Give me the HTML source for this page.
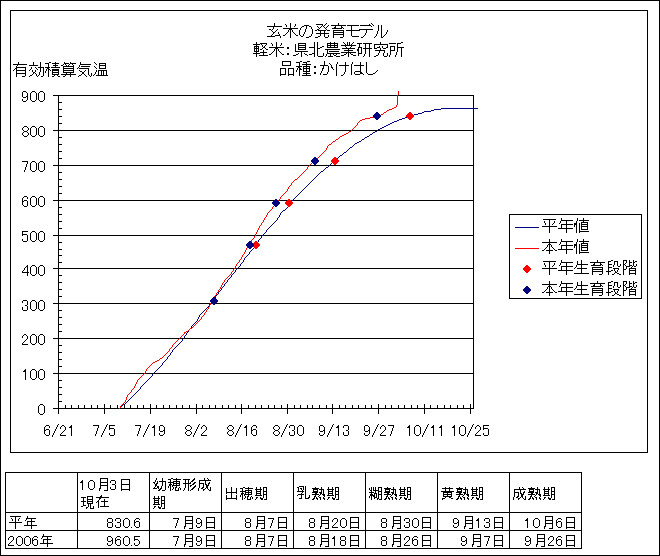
<!DOCTYPE html>
<html lang="ja"><head><meta charset="utf-8"><title>玄米の発育モデル</title>
<style>
html,body{margin:0;padding:0;background:#fff;}
body{width:660px;height:556px;position:relative;overflow:hidden;font-family:"Liberation Sans",sans-serif;}
svg{position:absolute;left:0;top:0;display:block;}
.t{position:absolute;white-space:nowrap;line-height:1;color:transparent;font-family:"Liberation Sans",sans-serif;}
</style></head><body>
<svg width="660" height="556" viewBox="0 0 660 556" shape-rendering="crispEdges"><rect width="660" height="556" fill="#fff"/><path fill="#000" d="M0 0h660v1h-660zM0 1h1v554h-1zM659 1h1v554h-1zM10 10h638v1h-638zM10 11h1v441h-1zM647 11h1v441h-1zM53 95h421v1h-421zM58 96h1v6h-1zM473 96h1v34h-1zM58 102h4v1h-4zM58 103h1v6h-1zM58 109h4v1h-4zM58 110h1v6h-1zM58 116h4v1h-4zM58 117h1v6h-1zM58 123h4v1h-4zM58 124h1v6h-1zM53 130h421v1h-421zM58 131h1v6h-1zM473 131h1v34h-1zM58 137h4v1h-4zM58 138h1v6h-1zM58 144h4v1h-4zM58 145h1v6h-1zM58 151h4v1h-4zM58 152h1v6h-1zM58 158h4v1h-4zM58 159h1v6h-1zM53 165h421v1h-421zM58 166h1v6h-1zM473 166h1v34h-1zM58 172h4v1h-4zM58 173h1v6h-1zM58 179h4v1h-4zM58 180h1v6h-1zM58 186h4v1h-4zM58 187h1v6h-1zM58 193h4v1h-4zM58 194h1v6h-1zM53 200h421v1h-421zM58 201h1v6h-1zM473 201h1v34h-1zM58 207h4v1h-4zM58 208h1v6h-1zM58 214h4v1h-4zM509 214h133v1h-133zM58 215h1v6h-1zM509 215h1v83h-1zM641 215h1v83h-1zM58 221h4v1h-4zM58 222h1v6h-1zM58 228h4v1h-4zM58 229h1v6h-1zM53 235h421v1h-421zM58 236h1v6h-1zM473 236h1v32h-1zM58 242h4v1h-4zM58 243h1v6h-1zM58 249h4v1h-4zM58 250h1v5h-1zM58 255h4v1h-4zM58 256h1v6h-1zM58 262h4v1h-4zM58 263h1v5h-1zM53 268h421v1h-421zM58 269h1v6h-1zM473 269h1v34h-1zM58 275h4v1h-4zM58 276h1v6h-1zM58 282h4v1h-4zM58 283h1v6h-1zM58 289h4v1h-4zM58 290h1v6h-1zM58 296h4v1h-4zM58 297h1v6h-1zM509 298h133v1h-133zM53 303h421v1h-421zM58 304h1v6h-1zM473 304h1v34h-1zM58 310h4v1h-4zM58 311h1v6h-1zM58 317h4v1h-4zM58 318h1v6h-1zM58 324h4v1h-4zM58 325h1v6h-1zM58 331h4v1h-4zM58 332h1v6h-1zM53 338h421v1h-421zM58 339h1v6h-1zM473 339h1v34h-1zM58 345h4v1h-4zM58 346h1v6h-1zM58 352h4v1h-4zM58 353h1v6h-1zM58 359h4v1h-4zM58 360h1v6h-1zM58 366h4v1h-4zM58 367h1v6h-1zM53 373h421v1h-421zM58 374h1v6h-1zM473 374h1v34h-1zM58 380h4v1h-4zM58 381h1v6h-1zM58 387h4v1h-4zM58 388h1v6h-1zM58 394h4v1h-4zM58 395h1v6h-1zM58 401h4v1h-4zM58 402h1v6h-1zM104 404h1v4h-1zM150 404h1v4h-1zM196 404h1v4h-1zM241 404h1v4h-1zM287 404h1v4h-1zM332 404h1v4h-1zM378 404h1v4h-1zM424 404h1v4h-1zM470 404h1v4h-1zM65 405h1v3h-1zM71 405h1v3h-1zM78 405h1v3h-1zM84 405h1v3h-1zM91 405h1v3h-1zM97 405h1v3h-1zM110 405h1v3h-1zM117 405h1v3h-1zM124 405h1v3h-1zM130 405h1v3h-1zM137 405h1v3h-1zM143 405h1v3h-1zM156 405h1v3h-1zM163 405h1v3h-1zM169 405h1v3h-1zM176 405h1v3h-1zM182 405h1v3h-1zM189 405h1v3h-1zM202 405h1v3h-1zM209 405h1v3h-1zM215 405h1v3h-1zM222 405h1v3h-1zM228 405h1v3h-1zM235 405h1v3h-1zM248 405h1v3h-1zM255 405h1v3h-1zM261 405h1v3h-1zM268 405h1v3h-1zM274 405h1v3h-1zM281 405h1v3h-1zM294 405h1v3h-1zM300 405h1v3h-1zM307 405h1v3h-1zM312 405h1v3h-1zM319 405h1v3h-1zM326 405h1v3h-1zM339 405h1v3h-1zM345 405h1v3h-1zM352 405h1v3h-1zM358 405h1v3h-1zM365 405h1v3h-1zM371 405h1v3h-1zM385 405h1v3h-1zM391 405h1v3h-1zM398 405h1v3h-1zM404 405h1v3h-1zM411 405h1v3h-1zM417 405h1v3h-1zM430 405h1v3h-1zM437 405h1v3h-1zM444 405h1v3h-1zM450 405h1v3h-1zM457 405h1v3h-1zM463 405h1v3h-1zM53 408h421v1h-421zM58 409h1v5h-1zM104 409h1v5h-1zM150 409h1v5h-1zM196 409h1v5h-1zM241 409h1v5h-1zM287 409h1v5h-1zM332 409h1v5h-1zM378 409h1v5h-1zM424 409h1v5h-1zM470 409h1v5h-1zM10 452h638v1h-638zM5 472h577v1h-577zM5 473h1v39h-1zM77 473h1v39h-1zM149 473h1v39h-1zM221 473h1v39h-1zM293 473h1v39h-1zM365 473h1v39h-1zM437 473h1v39h-1zM509 473h1v39h-1zM581 473h1v39h-1zM5 512h577v1h-577zM5 513h1v17h-1zM77 513h1v17h-1zM149 513h1v17h-1zM221 513h1v17h-1zM293 513h1v17h-1zM365 513h1v17h-1zM437 513h1v17h-1zM509 513h1v17h-1zM581 513h1v17h-1zM5 530h577v1h-577zM5 531h1v17h-1zM77 531h1v17h-1zM149 531h1v17h-1zM221 531h1v17h-1zM293 531h1v17h-1zM365 531h1v17h-1zM437 531h1v17h-1zM509 531h1v17h-1zM581 531h1v17h-1zM5 548h577v1h-577zM0 555h660v1h-660z"/><path fill="#000080" d="M441 108h37v1h-37zM434 109h7v1h-7zM431 110h3v1h-3zM424 111h7v1h-7zM422 112h2v1h-2zM418 113h4v1h-4zM414 114h4v1h-4zM411 115h3v1h-3zM408 116h3v1h-3zM405 117h3v1h-3zM402 118h3v1h-3zM399 119h3v1h-3zM397 120h2v1h-2zM394 121h3v1h-3zM392 122h2v1h-2zM390 123h2v1h-2zM388 124h2v1h-2zM386 125h2v1h-2zM384 126h2v1h-2zM382 127h2v1h-2zM380 128h2v1h-2zM378 129h2v1h-2zM377 130h1v1h-1zM375 131h2v1h-2zM373 132h2v1h-2zM372 133h1v1h-1zM370 134h2v1h-2zM369 135h1v1h-1zM367 136h2v1h-2zM365 137h2v1h-2zM364 138h1v1h-1zM362 139h2v1h-2zM361 140h1v1h-1zM359 141h2v1h-2zM357 142h2v1h-2zM355 143h2v1h-2zM354 144h1v1h-1zM353 145h1v1h-1zM352 146h1v1h-1zM350 147h2v1h-2zM349 148h1v1h-1zM348 149h1v1h-1zM347 150h1v1h-1zM346 151h1v1h-1zM344 152h2v1h-2zM343 153h1v1h-1zM342 154h1v1h-1zM340 155h2v1h-2zM339 156h1v1h-1zM338 157h1v1h-1zM337 158h1v1h-1zM335 159h2v1h-2zM334 160h1v1h-1zM333 161h1v1h-1zM332 162h1v1h-1zM331 163h1v1h-1zM330 164h1v1h-1zM329 165h1v1h-1zM328 166h1v1h-1zM326 167h2v1h-2zM325 168h1v1h-1zM324 169h1v1h-1zM323 170h1v1h-1zM321 171h2v1h-2zM320 172h1v1h-1zM319 173h1v1h-1zM318 174h1v1h-1zM317 175h1v1h-1zM316 176h1v1h-1zM315 177h1v1h-1zM314 178h1v1h-1zM313 179h1v1h-1zM312 180h1v1h-1zM311 181h1v1h-1zM310 182h1v1h-1zM309 183h1v1h-1zM308 184h1v1h-1zM307 185h1v1h-1zM306 186h1v1h-1zM305 187h1v1h-1zM304 188h1v1h-1zM303 189h1v1h-1zM302 190h1v1h-1zM301 191h1v1h-1zM300 192h1v1h-1zM299 193h1v1h-1zM298 194h1v1h-1zM297 195h1v1h-1zM296 196h1v1h-1zM295 197h1v1h-1zM294 198h1v1h-1zM293 199h1v1h-1zM292 200h1v1h-1zM291 201h1v2h-1zM290 203h1v1h-1zM289 204h1v1h-1zM288 205h1v2h-1zM287 207h1v1h-1zM286 208h1v1h-1zM285 209h1v1h-1zM283 210h2v1h-2zM282 211h1v1h-1zM281 212h1v1h-1zM280 213h1v2h-1zM279 215h1v2h-1zM278 217h1v1h-1zM277 218h1v2h-1zM276 220h1v1h-1zM275 221h1v1h-1zM274 222h1v1h-1zM273 223h1v1h-1zM272 224h1v1h-1zM271 225h1v1h-1zM270 226h1v1h-1zM269 227h1v1h-1zM515 227h24v1h-24zM268 228h1v1h-1zM267 229h1v1h-1zM266 230h1v2h-1zM265 232h1v1h-1zM264 233h1v1h-1zM263 234h1v1h-1zM262 235h1v1h-1zM261 236h1v2h-1zM260 238h1v1h-1zM259 239h1v1h-1zM258 240h1v2h-1zM257 242h1v1h-1zM256 243h1v2h-1zM255 245h1v1h-1zM254 246h1v2h-1zM253 248h1v1h-1zM252 249h1v1h-1zM251 250h1v1h-1zM250 251h1v1h-1zM249 252h1v2h-1zM248 254h1v1h-1zM247 255h1v1h-1zM246 256h1v1h-1zM245 257h1v1h-1zM244 258h1v2h-1zM243 260h1v2h-1zM242 262h1v1h-1zM241 263h1v1h-1zM240 264h1v2h-1zM239 266h1v1h-1zM238 267h1v1h-1zM237 268h1v1h-1zM236 269h1v1h-1zM235 270h1v2h-1zM234 272h1v1h-1zM233 273h1v1h-1zM232 274h1v1h-1zM231 275h1v2h-1zM230 277h1v1h-1zM229 278h1v1h-1zM228 279h1v1h-1zM227 280h1v2h-1zM226 282h1v1h-1zM225 283h1v1h-1zM224 284h1v2h-1zM223 286h1v1h-1zM222 287h1v1h-1zM221 288h1v2h-1zM220 290h1v1h-1zM219 291h1v1h-1zM218 292h1v2h-1zM217 294h1v1h-1zM216 295h1v1h-1zM215 296h1v2h-1zM214 298h1v1h-1zM213 299h1v1h-1zM212 300h1v2h-1zM211 302h1v1h-1zM210 303h1v1h-1zM209 304h1v2h-1zM208 306h1v1h-1zM207 307h1v1h-1zM206 308h1v1h-1zM205 309h1v1h-1zM204 310h1v1h-1zM203 311h1v1h-1zM202 312h1v1h-1zM201 313h1v1h-1zM200 314h1v1h-1zM199 315h1v2h-1zM198 317h1v2h-1zM197 319h1v2h-1zM196 321h1v1h-1zM195 322h1v1h-1zM194 323h1v1h-1zM193 324h1v1h-1zM192 325h1v1h-1zM191 326h1v2h-1zM190 328h1v1h-1zM189 329h1v1h-1zM188 330h1v2h-1zM187 332h1v1h-1zM186 333h1v2h-1zM185 335h1v1h-1zM184 336h1v2h-1zM183 338h1v1h-1zM182 339h1v2h-1zM181 341h1v1h-1zM180 342h1v1h-1zM179 343h1v1h-1zM178 344h1v1h-1zM177 345h1v1h-1zM176 346h1v1h-1zM175 347h1v1h-1zM174 348h1v1h-1zM173 349h1v1h-1zM172 350h1v2h-1zM171 352h1v1h-1zM170 353h1v2h-1zM169 355h1v1h-1zM168 356h1v1h-1zM167 357h1v2h-1zM166 359h1v1h-1zM165 360h1v1h-1zM164 361h1v1h-1zM163 362h1v1h-1zM162 363h1v2h-1zM161 365h1v1h-1zM160 366h1v1h-1zM159 367h1v1h-1zM158 368h1v1h-1zM157 369h1v1h-1zM156 370h1v1h-1zM155 371h1v1h-1zM154 372h1v1h-1zM153 373h1v1h-1zM152 374h1v2h-1zM151 376h1v1h-1zM150 377h1v1h-1zM149 378h1v1h-1zM148 379h1v1h-1zM147 380h1v1h-1zM146 381h1v1h-1zM145 382h1v1h-1zM144 383h1v1h-1zM143 384h1v1h-1zM142 385h1v1h-1zM141 386h1v1h-1zM140 387h1v2h-1zM139 389h1v1h-1zM138 390h1v1h-1zM137 391h1v1h-1zM136 392h1v1h-1zM135 393h1v1h-1zM134 394h1v1h-1zM133 395h1v1h-1zM132 396h1v1h-1zM131 397h1v1h-1zM130 398h1v1h-1zM129 399h1v1h-1zM128 400h1v1h-1zM127 401h1v1h-1zM126 402h1v1h-1zM125 403h1v1h-1zM123 404h2v1h-2zM122 405h1v1h-1zM121 406h1v1h-1zM120 407h1v1h-1zM119 408h1v1h-1z"/><path fill="#f00" d="M398 91h1v4h-1zM397 95h1v10h-1zM396 105h1v2h-1zM394 107h2v1h-2zM392 108h2v1h-2zM389 109h3v1h-3zM387 110h2v1h-2zM386 111h1v1h-1zM384 112h2v1h-2zM383 113h1v1h-1zM381 114h2v1h-2zM377 115h4v1h-4zM374 116h3v1h-3zM370 117h4v1h-4zM365 118h5v1h-5zM362 119h3v1h-3zM360 120h2v1h-2zM359 121h1v1h-1zM358 122h1v1h-1zM357 123h1v2h-1zM356 125h1v1h-1zM355 126h1v1h-1zM354 127h1v1h-1zM353 128h1v1h-1zM352 129h1v1h-1zM351 130h1v1h-1zM349 131h2v1h-2zM348 132h1v1h-1zM346 133h2v1h-2zM344 134h2v1h-2zM342 135h2v1h-2zM340 136h2v1h-2zM339 137h1v1h-1zM338 138h1v1h-1zM336 139h2v1h-2zM335 140h1v1h-1zM333 141h2v1h-2zM332 142h1v1h-1zM331 143h1v1h-1zM329 144h2v1h-2zM328 145h1v1h-1zM327 146h1v2h-1zM326 148h1v2h-1zM325 150h1v1h-1zM324 151h1v1h-1zM323 152h1v1h-1zM322 153h1v1h-1zM321 154h1v1h-1zM320 155h1v1h-1zM319 156h1v1h-1zM318 157h1v1h-1zM317 158h1v1h-1zM316 159h1v1h-1zM315 160h1v1h-1zM313 161h2v1h-2zM312 162h1v1h-1zM311 163h1v1h-1zM310 164h1v1h-1zM309 165h1v1h-1zM308 166h1v1h-1zM307 167h1v2h-1zM306 169h1v1h-1zM305 170h1v1h-1zM304 171h1v1h-1zM303 172h1v1h-1zM302 173h1v1h-1zM301 174h1v1h-1zM300 175h1v1h-1zM299 176h1v1h-1zM298 177h1v1h-1zM297 178h1v1h-1zM295 179h2v1h-2zM294 180h1v1h-1zM293 181h1v1h-1zM292 182h1v1h-1zM291 183h1v2h-1zM290 185h1v1h-1zM289 186h1v1h-1zM288 187h1v2h-1zM287 189h1v2h-1zM286 191h1v1h-1zM285 192h1v1h-1zM284 193h1v1h-1zM283 194h1v1h-1zM282 195h1v1h-1zM281 196h1v1h-1zM280 197h1v2h-1zM279 199h1v1h-1zM278 200h1v1h-1zM277 201h1v1h-1zM276 202h1v2h-1zM275 204h1v1h-1zM274 205h1v1h-1zM273 206h1v1h-1zM272 207h1v2h-1zM271 209h1v1h-1zM270 210h1v1h-1zM269 211h1v1h-1zM268 212h1v1h-1zM267 213h1v2h-1zM266 215h1v2h-1zM265 217h1v1h-1zM264 218h1v2h-1zM263 220h1v2h-1zM262 222h1v1h-1zM261 223h1v2h-1zM260 225h1v1h-1zM259 226h1v2h-1zM258 228h1v2h-1zM257 230h1v2h-1zM256 232h1v2h-1zM255 234h1v2h-1zM254 236h1v2h-1zM253 238h1v1h-1zM252 239h1v1h-1zM251 240h1v2h-1zM250 242h1v1h-1zM249 243h1v2h-1zM248 245h1v1h-1zM247 246h1v2h-1zM246 248h1v2h-1zM515 248h24v1h-24zM245 250h1v2h-1zM244 252h1v2h-1zM243 254h1v1h-1zM242 255h1v2h-1zM241 257h1v2h-1zM240 259h1v1h-1zM239 260h1v2h-1zM238 262h1v1h-1zM237 263h1v1h-1zM236 264h1v2h-1zM235 266h1v2h-1zM234 268h1v1h-1zM233 269h1v2h-1zM232 271h1v1h-1zM231 272h1v2h-1zM230 274h1v1h-1zM229 275h1v1h-1zM228 276h1v1h-1zM227 277h1v1h-1zM226 278h1v1h-1zM225 279h1v1h-1zM224 280h1v2h-1zM223 282h1v1h-1zM222 283h1v2h-1zM221 285h1v2h-1zM220 287h1v2h-1zM219 289h1v1h-1zM218 290h1v2h-1zM217 292h1v1h-1zM216 293h1v2h-1zM215 295h1v1h-1zM214 296h1v2h-1zM213 298h1v2h-1zM212 300h1v1h-1zM211 301h1v2h-1zM210 303h1v2h-1zM209 305h1v2h-1zM208 307h1v2h-1zM207 309h1v1h-1zM206 310h1v2h-1zM205 312h1v1h-1zM204 313h1v2h-1zM203 315h1v1h-1zM202 316h1v1h-1zM201 317h1v2h-1zM200 319h1v1h-1zM199 320h1v1h-1zM198 321h1v1h-1zM197 322h1v1h-1zM196 323h1v1h-1zM195 324h1v1h-1zM194 325h1v1h-1zM193 326h1v1h-1zM192 327h1v1h-1zM190 328h2v1h-2zM189 329h1v1h-1zM188 330h1v1h-1zM186 331h2v1h-2zM184 332h2v1h-2zM184 333h1v1h-1zM183 334h1v1h-1zM182 335h1v1h-1zM181 336h1v1h-1zM180 337h1v1h-1zM179 338h1v1h-1zM178 339h1v1h-1zM177 340h1v1h-1zM176 341h1v1h-1zM175 342h1v1h-1zM174 343h1v1h-1zM173 344h1v1h-1zM172 345h1v2h-1zM171 347h1v1h-1zM170 348h1v1h-1zM169 349h1v2h-1zM168 351h1v1h-1zM167 352h1v1h-1zM166 353h1v1h-1zM165 354h1v1h-1zM164 355h1v1h-1zM163 356h1v1h-1zM162 357h1v1h-1zM160 358h2v1h-2zM159 359h1v1h-1zM157 360h2v1h-2zM155 361h2v1h-2zM153 362h2v1h-2zM152 363h1v1h-1zM151 364h1v1h-1zM150 365h1v1h-1zM149 366h1v1h-1zM148 367h1v1h-1zM147 368h1v1h-1zM146 369h1v2h-1zM145 371h1v2h-1zM144 373h1v1h-1zM143 374h1v1h-1zM142 375h1v1h-1zM141 376h1v1h-1zM140 377h1v1h-1zM139 378h1v1h-1zM138 379h1v1h-1zM137 380h1v2h-1zM136 382h1v2h-1zM135 384h1v2h-1zM134 386h1v2h-1zM133 388h1v1h-1zM132 389h1v1h-1zM131 390h1v2h-1zM130 392h1v1h-1zM129 393h1v1h-1zM128 394h1v1h-1zM127 395h1v2h-1zM126 397h1v3h-1zM125 400h1v2h-1zM124 402h1v1h-1zM123 403h1v1h-1zM122 404h1v1h-1zM121 405h1v1h-1zM120 406h1v2h-1zM119 408h1v1h-1z"/><path fill="#f00" d="M409 112h2v1h-2zM408 113h4v1h-4zM407 114h6v1h-6zM406 115h8v2h-8zM407 117h6v1h-6zM408 118h4v1h-4zM409 119h2v1h-2zM334 157h2v1h-2zM333 158h4v1h-4zM332 159h6v1h-6zM331 160h8v2h-8zM332 162h6v1h-6zM333 163h4v1h-4zM334 164h2v1h-2zM288 199h2v1h-2zM287 200h4v1h-4zM286 201h6v1h-6zM285 202h8v2h-8zM286 204h6v1h-6zM287 205h4v1h-4zM288 206h2v1h-2zM255 241h2v1h-2zM254 242h4v1h-4zM253 243h6v1h-6zM252 244h8v2h-8zM253 246h6v1h-6zM254 247h4v1h-4zM255 248h2v1h-2zM526 265h2v1h-2zM525 266h4v1h-4zM524 267h6v1h-6zM523 268h8v2h-8zM524 270h6v1h-6zM525 271h4v1h-4zM526 272h2v1h-2z"/><path fill="#000080" d="M376 112h2v1h-2zM375 113h4v1h-4zM374 114h6v1h-6zM373 115h8v2h-8zM374 117h6v1h-6zM375 118h4v1h-4zM376 119h2v1h-2zM314 157h2v1h-2zM313 158h4v1h-4zM312 159h6v1h-6zM311 160h8v2h-8zM312 162h6v1h-6zM313 163h4v1h-4zM314 164h2v1h-2zM275 199h2v1h-2zM274 200h4v1h-4zM273 201h6v1h-6zM272 202h8v2h-8zM273 204h6v1h-6zM274 205h4v1h-4zM275 206h2v1h-2zM249 241h2v1h-2zM248 242h4v1h-4zM247 243h6v1h-6zM246 244h8v2h-8zM247 246h6v1h-6zM248 247h4v1h-4zM249 248h2v1h-2zM526 286h2v1h-2zM525 287h4v1h-4zM524 288h6v1h-6zM523 289h8v2h-8zM524 291h6v1h-6zM525 292h4v1h-4zM526 293h2v1h-2zM213 297h2v1h-2zM212 298h4v1h-4zM211 299h6v1h-6zM210 300h8v2h-8zM211 302h6v1h-6zM212 303h4v1h-4zM213 304h2v1h-2z"/><path fill="#000" d="M274 23h1v3h-1zM290 23h1v5h-1zM326 23h1v1h-1zM338 23h1v2h-1zM371 23h1v1h-1zM285 24h1v1h-1zM295 24h1v2h-1zM316 24h7v1h-7zM325 24h1v1h-1zM369 24h1v1h-1zM372 24h1v1h-1zM286 25h1v2h-1zM304 25h5v1h-5zM322 25h1v1h-1zM324 25h1v1h-1zM328 25h1v1h-1zM331 25h15v1h-15zM347 25h12v1h-12zM360 25h11v1h-11zM373 25h1v1h-1zM378 25h1v6h-1zM381 25h1v12h-1zM267 26h15v1h-15zM294 26h1v1h-1zM302 26h2v1h-2zM306 26h1v3h-1zM309 26h2v1h-2zM317 26h1v1h-1zM321 26h1v1h-1zM323 26h1v1h-1zM327 26h1v1h-1zM335 26h1v1h-1zM341 26h1v1h-1zM351 26h1v4h-1zM371 26h1v1h-1zM273 27h1v2h-1zM301 27h1v1h-1zM311 27h1v2h-1zM318 27h1v1h-1zM320 27h1v1h-1zM324 27h1v1h-1zM326 27h1v1h-1zM334 27h2v1h-2zM341 27h2v1h-2zM283 28h15v1h-15zM300 28h1v2h-1zM319 28h1v1h-1zM325 28h1v1h-1zM332 28h10v1h-10zM343 28h1v1h-1zM269 29h2v1h-2zM272 29h1v1h-1zM277 29h1v1h-1zM289 29h3v1h-3zM305 29h1v3h-1zM312 29h1v5h-1zM317 29h2v1h-2zM326 29h1v1h-1zM359 29h14v1h-14zM271 30h1v1h-1zM276 30h1v1h-1zM288 30h1v2h-1zM290 30h1v8h-1zM292 30h1v2h-1zM299 30h1v5h-1zM315 30h2v1h-2zM318 30h8v1h-8zM327 30h3v1h-3zM333 30h11v1h-11zM346 30h14v1h-14zM366 30h1v3h-1zM387 30h1v2h-1zM272 31h1v1h-1zM275 31h1v1h-1zM320 31h1v2h-1zM324 31h1v2h-1zM333 31h1v1h-1zM343 31h1v1h-1zM351 31h1v5h-1zM377 31h1v3h-1zM273 32h2v1h-2zM278 32h1v2h-1zM287 32h1v1h-1zM293 32h1v1h-1zM304 32h1v2h-1zM333 32h11v1h-11zM386 32h1v2h-1zM273 33h1v1h-1zM286 33h1v1h-1zM294 33h1v1h-1zM316 33h13v1h-13zM333 33h1v1h-1zM343 33h1v1h-1zM365 33h1v2h-1zM272 34h1v1h-1zM279 34h1v1h-1zM285 34h1v1h-1zM295 34h1v1h-1zM303 34h1v2h-1zM311 34h1v2h-1zM320 34h1v2h-1zM324 34h1v3h-1zM333 34h11v1h-11zM376 34h1v2h-1zM385 34h1v1h-1zM271 35h1v1h-1zM275 35h5v1h-5zM283 35h2v1h-2zM296 35h2v1h-2zM300 35h1v1h-1zM328 35h1v2h-1zM333 35h1v3h-1zM343 35h1v2h-1zM364 35h1v1h-1zM384 35h1v1h-1zM267 36h8v1h-8zM280 36h1v2h-1zM301 36h2v1h-2zM309 36h2v1h-2zM318 36h2v1h-2zM352 36h7v1h-7zM363 36h1v1h-1zM375 36h1v1h-1zM383 36h1v1h-1zM306 37h3v1h-3zM315 37h3v1h-3zM325 37h3v1h-3zM340 37h3v1h-3zM361 37h2v1h-2zM374 37h1v1h-1zM381 37h2v1h-2zM256 42h1v2h-1zM276 42h1v5h-1zM314 42h1v5h-1zM317 42h1v6h-1zM330 42h1v1h-1zM334 42h1v1h-1zM343 42h1v1h-1zM347 42h1v3h-1zM349 42h1v3h-1zM353 42h1v1h-1zM380 42h1v2h-1zM401 42h2v1h-2zM260 43h7v1h-7zM271 43h1v1h-1zM281 43h1v2h-1zM298 43h8v1h-8zM327 43h11v1h-11zM344 43h1v1h-1zM352 43h1v1h-1zM357 43h5v1h-5zM363 43h9v1h-9zM389 43h7v1h-7zM397 43h4v1h-4zM253 44h7v1h-7zM261 44h1v1h-1zM266 44h1v1h-1zM272 44h1v2h-1zM295 44h1v7h-1zM298 44h1v1h-1zM305 44h1v1h-1zM327 44h1v1h-1zM330 44h1v1h-1zM334 44h1v1h-1zM337 44h1v1h-1zM345 44h1v1h-1zM351 44h1v1h-1zM359 44h1v3h-1zM365 44h1v4h-1zM369 44h1v4h-1zM374 44h14v1h-14zM397 44h1v3h-1zM256 45h1v1h-1zM262 45h1v2h-1zM265 45h1v1h-1zM280 45h1v1h-1zM298 45h8v1h-8zM327 45h11v1h-11zM341 45h15v1h-15zM374 45h1v3h-1zM387 45h1v2h-1zM254 46h5v1h-5zM264 46h1v1h-1zM298 46h1v1h-1zM305 46h1v1h-1zM322 46h2v1h-2zM327 46h1v1h-1zM330 46h1v1h-1zM334 46h1v1h-1zM337 46h1v1h-1zM345 46h1v1h-1zM351 46h1v1h-1zM379 46h1v1h-1zM382 46h1v2h-1zM390 46h5v1h-5zM254 47h1v1h-1zM256 47h1v1h-1zM258 47h1v1h-1zM263 47h2v1h-2zM269 47h15v1h-15zM287 47h2v2h-2zM298 47h8v1h-8zM309 47h6v1h-6zM320 47h2v1h-2zM327 47h11v1h-11zM346 47h1v1h-1zM350 47h1v1h-1zM358 47h4v1h-4zM377 47h3v1h-3zM386 47h2v1h-2zM390 47h1v3h-1zM394 47h1v3h-1zM397 47h7v1h-7zM254 48h5v1h-5zM262 48h1v1h-1zM265 48h1v1h-1zM275 48h3v1h-3zM298 48h1v1h-1zM305 48h1v1h-1zM314 48h1v5h-1zM317 48h3v1h-3zM342 48h13v1h-13zM358 48h1v1h-1zM361 48h1v5h-1zM363 48h9v1h-9zM374 48h3v1h-3zM380 48h1v2h-1zM383 48h3v1h-3zM397 48h1v4h-1zM401 48h1v9h-1zM254 49h1v2h-1zM256 49h1v2h-1zM258 49h1v2h-1zM260 49h2v1h-2zM266 49h2v1h-2zM274 49h1v2h-1zM276 49h1v8h-1zM278 49h1v2h-1zM298 49h8v1h-8zM317 49h1v7h-1zM325 49h15v1h-15zM348 49h1v1h-1zM357 49h2v2h-2zM365 49h1v5h-1zM369 49h1v8h-1zM263 50h1v2h-1zM327 50h1v3h-1zM344 50h9v1h-9zM375 50h10v1h-10zM390 50h5v1h-5zM254 51h5v1h-5zM273 51h1v1h-1zM279 51h1v1h-1zM295 51h13v1h-13zM329 51h10v1h-10zM348 51h1v1h-1zM358 51h1v2h-1zM379 51h1v2h-1zM384 51h1v2h-1zM390 51h1v4h-1zM256 52h1v1h-1zM260 52h7v1h-7zM272 52h1v1h-1zM280 52h1v1h-1zM301 52h1v5h-1zM341 52h15v1h-15zM396 52h1v3h-1zM253 53h7v1h-7zM263 53h1v2h-1zM271 53h1v1h-1zM281 53h1v1h-1zM287 53h2v2h-2zM298 53h1v1h-1zM304 53h1v1h-1zM312 53h3v1h-3zM323 53h1v3h-1zM327 53h13v1h-13zM346 53h1v1h-1zM348 53h1v4h-1zM350 53h1v1h-1zM358 53h4v1h-4zM378 53h1v2h-1zM383 53h1v3h-1zM387 53h1v3h-1zM256 54h1v3h-1zM269 54h2v1h-2zM282 54h2v1h-2zM296 54h2v1h-2zM305 54h2v1h-2zM309 54h3v1h-3zM314 54h1v3h-1zM326 54h1v2h-1zM330 54h1v2h-1zM333 54h1v1h-1zM336 54h1v1h-1zM344 54h2v1h-2zM351 54h2v1h-2zM358 54h1v2h-1zM364 54h1v2h-1zM259 55h9v1h-9zM293 55h3v1h-3zM307 55h1v1h-1zM334 55h2v1h-2zM341 55h3v1h-3zM353 55h3v1h-3zM376 55h2v1h-2zM389 55h1v2h-1zM395 55h1v2h-1zM318 56h5v1h-5zM325 56h1v1h-1zM328 56h5v1h-5zM336 56h4v1h-4zM363 56h1v1h-1zM374 56h2v1h-2zM384 56h3v1h-3zM282 61h9v1h-9zM300 61h2v1h-2zM307 61h3v1h-3zM324 61h1v4h-1zM18 62h1v2h-1zM33 62h1v3h-1zM40 62h1v5h-1zM49 62h2v1h-2zM55 62h1v1h-1zM64 62h1v1h-1zM70 62h1v1h-1zM80 62h1v2h-1zM94 62h1v1h-1zM282 62h1v3h-1zM290 62h1v3h-1zM296 62h4v1h-4zM303 62h4v1h-4zM337 62h1v2h-1zM345 62h1v3h-1zM352 62h1v2h-1zM360 62h1v3h-1zM366 62h1v11h-1zM45 63h4v1h-4zM52 63h7v1h-7zM64 63h5v1h-5zM70 63h6v1h-6zM95 63h1v1h-1zM99 63h7v1h-7zM299 63h1v3h-1zM306 63h1v1h-1zM329 63h1v1h-1zM13 64h14v1h-14zM48 64h1v3h-1zM55 64h1v1h-1zM63 64h1v1h-1zM65 64h1v1h-1zM69 64h1v1h-1zM72 64h1v1h-1zM80 64h11v1h-11zM96 64h1v1h-1zM99 64h1v1h-1zM105 64h1v1h-1zM302 64h9v1h-9zM330 64h1v1h-1zM336 64h1v12h-1zM351 64h1v11h-1zM17 65h1v1h-1zM29 65h9v1h-9zM53 65h5v1h-5zM61 65h2v1h-2zM66 65h1v1h-1zM68 65h1v1h-1zM73 65h1v1h-1zM79 65h1v2h-1zM99 65h7v1h-7zM282 65h9v1h-9zM306 65h1v1h-1zM320 65h8v1h-8zM331 65h1v2h-1zM339 65h10v1h-10zM354 65h10v1h-10zM16 66h1v1h-1zM55 66h1v1h-1zM63 66h11v1h-11zM81 66h9v1h-9zM94 66h1v1h-1zM99 66h1v2h-1zM105 66h1v2h-1zM296 66h6v1h-6zM303 66h7v1h-7zM314 66h2v2h-2zM323 66h1v2h-1zM328 66h1v6h-1zM345 66h1v6h-1zM360 66h1v5h-1zM16 67h10v1h-10zM31 67h1v2h-1zM35 67h1v1h-1zM38 67h6v1h-6zM45 67h5v1h-5zM51 67h9v1h-9zM63 67h1v1h-1zM73 67h1v1h-1zM78 67h1v1h-1zM95 67h1v1h-1zM298 67h2v1h-2zM303 67h1v1h-1zM306 67h1v1h-1zM309 67h1v1h-1zM331 67h2v1h-2zM15 68h2v1h-2zM25 68h1v2h-1zM36 68h1v1h-1zM40 68h1v4h-1zM43 68h1v8h-1zM47 68h2v1h-2zM63 68h11v1h-11zM77 68h1v1h-1zM79 68h10v1h-10zM96 68h1v1h-1zM99 68h7v1h-7zM280 68h6v1h-6zM288 68h6v1h-6zM297 68h1v2h-1zM299 68h2v1h-2zM303 68h7v1h-7zM322 68h2v1h-2zM332 68h1v1h-1zM14 69h1v1h-1zM16 69h1v1h-1zM30 69h1v1h-1zM37 69h1v1h-1zM46 69h1v2h-1zM48 69h2v1h-2zM52 69h7v2h-7zM63 69h1v1h-1zM73 69h1v1h-1zM88 69h1v6h-1zM280 69h1v5h-1zM285 69h1v5h-1zM288 69h1v5h-1zM293 69h1v5h-1zM299 69h3v1h-3zM303 69h1v2h-1zM306 69h1v2h-1zM309 69h1v2h-1zM322 69h1v2h-1zM333 69h1v1h-1zM13 70h1v1h-1zM16 70h10v1h-10zM29 70h1v1h-1zM32 70h1v2h-1zM35 70h1v2h-1zM48 70h1v7h-1zM50 70h1v1h-1zM63 70h11v1h-11zM79 70h1v1h-1zM85 70h1v1h-1zM96 70h1v2h-1zM98 70h9v1h-9zM296 70h1v2h-1zM299 70h1v6h-1zM377 70h1v1h-1zM16 71h1v2h-1zM25 71h1v2h-1zM45 71h1v2h-1zM52 71h1v1h-1zM58 71h1v1h-1zM63 71h1v1h-1zM73 71h1v1h-1zM80 71h2v1h-2zM84 71h1v1h-1zM98 71h1v4h-1zM101 71h1v4h-1zM103 71h1v4h-1zM106 71h1v4h-1zM303 71h7v1h-7zM321 71h1v2h-1zM355 71h6v1h-6zM376 71h1v1h-1zM33 72h2v1h-2zM39 72h1v3h-1zM52 72h7v1h-7zM63 72h11v1h-11zM82 72h2v2h-2zM95 72h1v2h-1zM306 72h1v1h-1zM314 72h2v2h-2zM327 72h1v2h-1zM344 72h1v2h-1zM354 72h1v2h-1zM360 72h2v1h-2zM375 72h1v1h-1zM16 73h10v1h-10zM33 73h1v1h-1zM35 73h1v1h-1zM52 73h1v1h-1zM58 73h1v1h-1zM66 73h1v1h-1zM70 73h1v1h-1zM91 73h1v3h-1zM303 73h7v1h-7zM320 73h1v2h-1zM360 73h3v1h-3zM367 73h1v1h-1zM373 73h2v1h-2zM16 74h1v3h-1zM25 74h1v2h-1zM32 74h1v1h-1zM36 74h1v2h-1zM52 74h7v1h-7zM61 74h15v1h-15zM81 74h1v1h-1zM84 74h1v1h-1zM94 74h1v1h-1zM280 74h6v1h-6zM288 74h6v1h-6zM306 74h1v1h-1zM323 74h4v1h-4zM343 74h1v1h-1zM355 74h5v1h-5zM363 74h1v1h-1zM368 74h5v1h-5zM30 75h2v1h-2zM38 75h1v1h-1zM54 75h1v1h-1zM57 75h1v1h-1zM65 75h1v1h-1zM70 75h1v2h-1zM79 75h2v1h-2zM85 75h1v1h-1zM89 75h1v1h-1zM93 75h1v1h-1zM96 75h12v1h-12zM280 75h1v1h-1zM288 75h1v1h-1zM293 75h1v1h-1zM302 75h9v1h-9zM341 75h2v1h-2zM22 76h3v1h-3zM29 76h1v1h-1zM37 76h1v1h-1zM41 76h2v1h-2zM52 76h2v1h-2zM58 76h2v1h-2zM63 76h2v1h-2zM78 76h1v1h-1zM86 76h1v1h-1zM90 76h1v1h-1zM23 91h3v1h-3zM32 91h3v1h-3zM40 91h3v1h-3zM22 92h1v5h-1zM26 92h1v1h-1zM31 92h1v1h-1zM35 92h1v1h-1zM39 92h1v1h-1zM43 92h1v1h-1zM27 93h1v3h-1zM30 93h1v7h-1zM36 93h1v7h-1zM38 93h1v7h-1zM44 93h1v7h-1zM26 96h2v1h-2zM23 97h3v1h-3zM27 97h1v3h-1zM22 99h1v2h-1zM26 100h1v1h-1zM31 100h1v1h-1zM35 100h1v1h-1zM39 100h1v1h-1zM43 100h1v1h-1zM23 101h3v1h-3zM32 101h3v1h-3zM40 101h3v1h-3zM24 126h3v1h-3zM32 126h3v1h-3zM40 126h3v1h-3zM23 127h1v1h-1zM27 127h1v1h-1zM31 127h1v1h-1zM35 127h1v1h-1zM39 127h1v1h-1zM43 127h1v1h-1zM22 128h1v2h-1zM28 128h1v2h-1zM30 128h1v7h-1zM36 128h1v7h-1zM38 128h1v7h-1zM44 128h1v7h-1zM23 130h1v1h-1zM27 130h1v1h-1zM24 131h3v1h-3zM23 132h1v1h-1zM27 132h1v1h-1zM22 133h1v2h-1zM28 133h1v2h-1zM23 135h1v1h-1zM27 135h1v1h-1zM31 135h1v1h-1zM35 135h1v1h-1zM39 135h1v1h-1zM43 135h1v1h-1zM24 136h3v1h-3zM32 136h3v1h-3zM40 136h3v1h-3zM22 161h6v1h-6zM32 161h3v1h-3zM40 161h3v1h-3zM27 162h1v2h-1zM31 162h1v1h-1zM35 162h1v1h-1zM39 162h1v1h-1zM43 162h1v1h-1zM30 163h1v7h-1zM36 163h1v7h-1zM38 163h1v7h-1zM44 163h1v7h-1zM26 164h1v3h-1zM25 167h1v3h-1zM24 170h1v2h-1zM31 170h1v1h-1zM35 170h1v1h-1zM39 170h1v1h-1zM43 170h1v1h-1zM32 171h3v1h-3zM40 171h3v1h-3zM24 196h3v1h-3zM32 196h3v1h-3zM40 196h3v1h-3zM23 197h1v1h-1zM27 197h1v2h-1zM31 197h1v1h-1zM35 197h1v1h-1zM39 197h1v1h-1zM43 197h1v1h-1zM22 198h1v3h-1zM30 198h1v7h-1zM36 198h1v7h-1zM38 198h1v7h-1zM44 198h1v7h-1zM24 200h3v1h-3zM22 201h2v1h-2zM27 201h1v5h-1zM22 202h1v3h-1zM23 205h1v1h-1zM31 205h1v1h-1zM35 205h1v1h-1zM39 205h1v1h-1zM43 205h1v1h-1zM24 206h3v1h-3zM32 206h3v1h-3zM40 206h3v1h-3zM561 218h1v2h-1zM577 218h1v3h-1zM583 218h1v2h-1zM543 219h13v1h-13zM549 220h1v6h-1zM561 220h12v1h-12zM579 220h10v1h-10zM544 221h1v2h-1zM554 221h1v2h-1zM560 221h1v2h-1zM566 221h1v3h-1zM576 221h1v2h-1zM583 221h1v1h-1zM581 222h7v1h-7zM545 223h1v2h-1zM553 223h1v1h-1zM559 223h1v1h-1zM574 223h3v2h-3zM579 223h1v8h-1zM581 223h1v1h-1zM587 223h1v1h-1zM552 224h1v1h-1zM561 224h12v1h-12zM581 224h7v1h-7zM561 225h1v3h-1zM566 225h1v3h-1zM574 225h1v2h-1zM576 225h1v8h-1zM581 225h1v1h-1zM587 225h1v1h-1zM542 226h15v1h-15zM581 226h7v1h-7zM549 227h1v6h-1zM581 227h1v2h-1zM587 227h1v2h-1zM558 228h15v1h-15zM566 229h1v4h-1zM581 229h7v1h-7zM22 231h6v1h-6zM32 231h3v1h-3zM40 231h3v1h-3zM579 231h10v1h-10zM22 232h1v2h-1zM31 232h1v1h-1zM35 232h1v1h-1zM39 232h1v1h-1zM43 232h1v1h-1zM579 232h1v1h-1zM30 233h1v7h-1zM36 233h1v7h-1zM38 233h1v7h-1zM44 233h1v7h-1zM22 234h5v1h-5zM22 235h1v1h-1zM27 235h1v6h-1zM22 239h1v2h-1zM549 239h1v3h-1zM561 239h1v2h-1zM577 239h1v3h-1zM583 239h1v2h-1zM31 240h1v1h-1zM35 240h1v1h-1zM39 240h1v1h-1zM43 240h1v1h-1zM23 241h4v1h-4zM32 241h3v1h-3zM40 241h3v1h-3zM561 241h12v1h-12zM579 241h10v1h-10zM542 242h15v1h-15zM560 242h1v2h-1zM566 242h1v3h-1zM576 242h1v2h-1zM583 242h1v1h-1zM549 243h1v1h-1zM581 243h7v1h-7zM548 244h3v1h-3zM559 244h1v1h-1zM574 244h3v2h-3zM579 244h1v8h-1zM581 244h1v1h-1zM587 244h1v1h-1zM547 245h1v2h-1zM549 245h1v5h-1zM551 245h1v2h-1zM561 245h12v1h-12zM581 245h7v1h-7zM561 246h1v3h-1zM566 246h1v3h-1zM574 246h1v2h-1zM576 246h1v8h-1zM581 246h1v1h-1zM587 246h1v1h-1zM546 247h1v1h-1zM552 247h1v1h-1zM581 247h7v1h-7zM545 248h1v1h-1zM553 248h1v1h-1zM581 248h1v2h-1zM587 248h1v2h-1zM544 249h1v1h-1zM554 249h1v1h-1zM558 249h15v1h-15zM542 250h2v1h-2zM546 250h7v1h-7zM555 250h2v1h-2zM566 250h1v4h-1zM581 250h7v1h-7zM549 251h1v3h-1zM579 252h10v1h-10zM579 253h1v1h-1zM561 260h1v2h-1zM581 260h1v4h-1zM597 260h1v2h-1zM611 260h2v1h-2zM623 260h4v1h-4zM629 260h1v2h-1zM633 260h1v2h-1zM543 261h13v1h-13zM577 261h1v3h-1zM608 261h3v1h-3zM614 261h4v1h-4zM623 261h1v3h-1zM626 261h1v2h-1zM635 261h2v1h-2zM549 262h1v6h-1zM561 262h12v1h-12zM590 262h15v1h-15zM608 262h1v2h-1zM614 262h1v3h-1zM617 262h1v4h-1zM629 262h3v1h-3zM633 262h2v1h-2zM544 263h1v2h-1zM554 263h1v2h-1zM560 263h1v2h-1zM566 263h1v3h-1zM594 263h1v1h-1zM600 263h1v1h-1zM625 263h1v1h-1zM629 263h1v2h-1zM633 263h1v3h-1zM577 264h11v1h-11zM593 264h2v1h-2zM600 264h2v1h-2zM608 264h4v1h-4zM620 264h1v2h-1zM623 264h2v1h-2zM636 264h1v2h-1zM27 265h1v1h-1zM32 265h3v1h-3zM40 265h3v1h-3zM545 265h1v2h-1zM553 265h1v1h-1zM559 265h1v1h-1zM576 265h1v2h-1zM581 265h1v3h-1zM591 265h10v1h-10zM602 265h1v1h-1zM608 265h1v2h-1zM613 265h1v2h-1zM623 265h1v4h-1zM625 265h1v1h-1zM629 265h3v1h-3zM26 266h2v1h-2zM31 266h1v1h-1zM35 266h1v1h-1zM39 266h1v1h-1zM43 266h1v1h-1zM552 266h1v1h-1zM561 266h12v1h-12zM618 266h2v1h-2zM626 266h4v1h-4zM632 266h1v1h-1zM634 266h2v1h-2zM25 267h1v1h-1zM27 267h1v5h-1zM30 267h1v7h-1zM36 267h1v7h-1zM38 267h1v7h-1zM44 267h1v7h-1zM561 267h1v3h-1zM566 267h1v3h-1zM575 267h1v1h-1zM592 267h11v1h-11zM608 267h4v1h-4zM626 267h1v2h-1zM631 267h1v1h-1zM24 268h1v2h-1zM542 268h15v1h-15zM574 268h1v1h-1zM577 268h10v1h-10zM592 268h1v1h-1zM602 268h1v1h-1zM608 268h1v3h-1zM613 268h6v1h-6zM629 268h7v1h-7zM549 269h1v6h-1zM581 269h1v4h-1zM592 269h11v1h-11zM614 269h1v2h-1zM618 269h1v1h-1zM623 269h3v1h-3zM629 269h1v1h-1zM635 269h1v1h-1zM23 270h1v1h-1zM558 270h15v1h-15zM592 270h1v1h-1zM602 270h1v1h-1zM611 270h2v1h-2zM617 270h1v2h-1zM623 270h1v5h-1zM629 270h7v1h-7zM22 271h1v1h-1zM566 271h1v4h-1zM592 271h11v1h-11zM606 271h5v1h-5zM615 271h1v1h-1zM629 271h1v2h-1zM635 271h1v2h-1zM22 272h7v1h-7zM592 272h1v3h-1zM602 272h1v2h-1zM608 272h1v3h-1zM615 272h2v1h-2zM27 273h1v3h-1zM574 273h15v1h-15zM614 273h1v1h-1zM617 273h2v1h-2zM629 273h7v1h-7zM31 274h1v1h-1zM35 274h1v1h-1zM39 274h1v1h-1zM43 274h1v1h-1zM599 274h3v1h-3zM612 274h2v1h-2zM619 274h2v1h-2zM629 274h1v1h-1zM635 274h1v1h-1zM32 275h3v1h-3zM40 275h3v1h-3zM549 281h1v3h-1zM561 281h1v2h-1zM581 281h1v4h-1zM597 281h1v2h-1zM611 281h2v1h-2zM623 281h4v1h-4zM629 281h1v2h-1zM633 281h1v2h-1zM577 282h1v3h-1zM608 282h3v1h-3zM614 282h4v1h-4zM623 282h1v3h-1zM626 282h1v2h-1zM635 282h2v1h-2zM561 283h12v1h-12zM590 283h15v1h-15zM608 283h1v2h-1zM614 283h1v3h-1zM617 283h1v4h-1zM629 283h3v1h-3zM633 283h2v1h-2zM542 284h15v1h-15zM560 284h1v2h-1zM566 284h1v3h-1zM594 284h1v1h-1zM600 284h1v1h-1zM625 284h1v1h-1zM629 284h1v2h-1zM633 284h1v3h-1zM549 285h1v1h-1zM577 285h11v1h-11zM593 285h2v1h-2zM600 285h2v1h-2zM608 285h4v1h-4zM620 285h1v2h-1zM623 285h2v1h-2zM636 285h1v2h-1zM548 286h3v1h-3zM559 286h1v1h-1zM576 286h1v2h-1zM581 286h1v3h-1zM591 286h10v1h-10zM602 286h1v1h-1zM608 286h1v2h-1zM613 286h1v2h-1zM623 286h1v4h-1zM625 286h1v1h-1zM629 286h3v1h-3zM547 287h1v2h-1zM549 287h1v5h-1zM551 287h1v2h-1zM561 287h12v1h-12zM618 287h2v1h-2zM626 287h4v1h-4zM632 287h1v1h-1zM634 287h2v1h-2zM561 288h1v3h-1zM566 288h1v3h-1zM575 288h1v1h-1zM592 288h11v1h-11zM608 288h4v1h-4zM626 288h1v2h-1zM631 288h1v1h-1zM546 289h1v1h-1zM552 289h1v1h-1zM574 289h1v1h-1zM577 289h10v1h-10zM592 289h1v1h-1zM602 289h1v1h-1zM608 289h1v3h-1zM613 289h6v1h-6zM629 289h7v1h-7zM545 290h1v1h-1zM553 290h1v1h-1zM581 290h1v4h-1zM592 290h11v1h-11zM614 290h1v2h-1zM618 290h1v1h-1zM623 290h3v1h-3zM629 290h1v1h-1zM635 290h1v1h-1zM544 291h1v1h-1zM554 291h1v1h-1zM558 291h15v1h-15zM592 291h1v1h-1zM602 291h1v1h-1zM611 291h2v1h-2zM617 291h1v2h-1zM623 291h1v5h-1zM629 291h7v1h-7zM542 292h2v1h-2zM546 292h7v1h-7zM555 292h2v1h-2zM566 292h1v4h-1zM592 292h11v1h-11zM606 292h5v1h-5zM615 292h1v1h-1zM629 292h1v2h-1zM635 292h1v2h-1zM549 293h1v3h-1zM592 293h1v3h-1zM602 293h1v2h-1zM608 293h1v3h-1zM615 293h2v1h-2zM574 294h15v1h-15zM614 294h1v1h-1zM617 294h2v1h-2zM629 294h7v1h-7zM599 295h3v1h-3zM612 295h2v1h-2zM619 295h2v1h-2zM629 295h1v1h-1zM635 295h1v1h-1zM23 300h4v1h-4zM32 300h3v1h-3zM40 300h3v1h-3zM22 301h1v2h-1zM27 301h1v4h-1zM31 301h1v1h-1zM35 301h1v1h-1zM39 301h1v1h-1zM43 301h1v1h-1zM30 302h1v7h-1zM36 302h1v7h-1zM38 302h1v7h-1zM44 302h1v7h-1zM25 305h2v1h-2zM27 306h1v4h-1zM22 307h1v3h-1zM31 309h1v1h-1zM35 309h1v1h-1zM39 309h1v1h-1zM43 309h1v1h-1zM23 310h4v1h-4zM32 310h3v1h-3zM40 310h3v1h-3zM24 334h2v1h-2zM32 334h3v1h-3zM40 334h3v1h-3zM23 335h1v1h-1zM26 335h1v1h-1zM31 335h1v1h-1zM35 335h1v1h-1zM39 335h1v1h-1zM43 335h1v1h-1zM22 336h1v2h-1zM27 336h1v3h-1zM30 336h1v7h-1zM36 336h1v7h-1zM38 336h1v7h-1zM44 336h1v7h-1zM26 339h1v1h-1zM25 340h1v1h-1zM24 341h1v1h-1zM23 342h1v1h-1zM22 343h1v1h-1zM31 343h1v1h-1zM35 343h1v1h-1zM39 343h1v1h-1zM43 343h1v1h-1zM22 344h6v1h-6zM32 344h3v1h-3zM40 344h3v1h-3zM25 369h1v1h-1zM32 369h3v1h-3zM40 369h3v1h-3zM24 370h2v1h-2zM31 370h1v1h-1zM35 370h1v1h-1zM39 370h1v1h-1zM43 370h1v1h-1zM23 371h3v1h-3zM30 371h1v7h-1zM36 371h1v7h-1zM38 371h1v7h-1zM44 371h1v7h-1zM25 372h1v8h-1zM31 378h1v1h-1zM35 378h1v1h-1zM39 378h1v1h-1zM43 378h1v1h-1zM32 379h3v1h-3zM40 379h3v1h-3zM40 404h3v1h-3zM39 405h1v1h-1zM43 405h1v1h-1zM38 406h1v7h-1zM44 406h1v7h-1zM39 413h1v1h-1zM43 413h1v1h-1zM40 414h3v1h-3zM58 424h1v1h-1zM107 424h1v1h-1zM149 424h1v1h-1zM199 424h1v1h-1zM241 424h1v1h-1zM287 424h1v1h-1zM333 424h1v1h-1zM378 424h1v1h-1zM428 424h1v1h-1zM473 424h1v1h-1zM46 425h3v1h-3zM57 425h1v2h-1zM62 425h2v1h-2zM71 425h1v1h-1zM93 425h6v1h-6zM106 425h1v2h-1zM109 425h6v1h-6zM135 425h6v1h-6zM148 425h1v2h-1zM154 425h1v1h-1zM160 425h3v1h-3zM187 425h3v1h-3zM198 425h1v2h-1zM203 425h2v1h-2zM229 425h3v1h-3zM240 425h1v2h-1zM246 425h1v1h-1zM253 425h3v1h-3zM275 425h3v1h-3zM286 425h1v2h-1zM290 425h4v1h-4zM299 425h3v1h-3zM320 425h3v1h-3zM332 425h1v2h-1zM338 425h1v1h-1zM344 425h4v1h-4zM365 425h3v1h-3zM377 425h1v2h-1zM382 425h2v1h-2zM388 425h6v1h-6zM409 425h1v1h-1zM416 425h3v1h-3zM427 425h1v2h-1zM433 425h1v1h-1zM441 425h1v1h-1zM454 425h1v1h-1zM461 425h3v1h-3zM472 425h1v2h-1zM477 425h2v1h-2zM483 425h6v1h-6zM45 426h1v1h-1zM49 426h1v2h-1zM61 426h1v1h-1zM64 426h1v1h-1zM70 426h2v1h-2zM98 426h1v2h-1zM109 426h1v2h-1zM140 426h1v2h-1zM153 426h2v1h-2zM159 426h1v5h-1zM163 426h1v1h-1zM186 426h1v1h-1zM190 426h1v1h-1zM202 426h1v1h-1zM205 426h1v1h-1zM228 426h1v1h-1zM232 426h1v1h-1zM245 426h2v1h-2zM252 426h1v1h-1zM256 426h1v2h-1zM274 426h1v1h-1zM278 426h1v1h-1zM289 426h1v2h-1zM294 426h1v4h-1zM298 426h1v1h-1zM302 426h1v1h-1zM319 426h1v5h-1zM323 426h1v1h-1zM337 426h2v1h-2zM343 426h1v2h-1zM348 426h1v4h-1zM364 426h1v5h-1zM368 426h1v1h-1zM381 426h1v1h-1zM384 426h1v1h-1zM393 426h1v2h-1zM408 426h2v1h-2zM415 426h1v1h-1zM419 426h1v1h-1zM432 426h2v1h-2zM440 426h2v1h-2zM453 426h2v1h-2zM460 426h1v1h-1zM464 426h1v1h-1zM476 426h1v1h-1zM479 426h1v1h-1zM483 426h1v2h-1zM44 427h1v3h-1zM56 427h1v2h-1zM60 427h1v2h-1zM65 427h1v3h-1zM69 427h3v1h-3zM105 427h1v2h-1zM147 427h1v2h-1zM152 427h3v1h-3zM164 427h1v3h-1zM185 427h1v2h-1zM191 427h1v2h-1zM197 427h1v2h-1zM201 427h1v2h-1zM206 427h1v3h-1zM227 427h1v2h-1zM233 427h1v2h-1zM239 427h1v2h-1zM244 427h3v1h-3zM251 427h1v3h-1zM273 427h1v2h-1zM279 427h1v2h-1zM285 427h1v2h-1zM297 427h1v7h-1zM303 427h1v7h-1zM324 427h1v3h-1zM331 427h1v2h-1zM336 427h3v1h-3zM369 427h1v3h-1zM376 427h1v2h-1zM380 427h1v2h-1zM385 427h1v3h-1zM407 427h3v1h-3zM414 427h1v7h-1zM420 427h1v7h-1zM426 427h1v2h-1zM431 427h3v1h-3zM439 427h3v1h-3zM452 427h3v1h-3zM459 427h1v7h-1zM465 427h1v7h-1zM471 427h1v2h-1zM475 427h1v2h-1zM480 427h1v3h-1zM71 428h1v8h-1zM97 428h1v3h-1zM109 428h5v1h-5zM139 428h1v3h-1zM154 428h1v8h-1zM246 428h1v8h-1zM338 428h1v8h-1zM392 428h1v3h-1zM409 428h1v8h-1zM433 428h1v8h-1zM441 428h1v8h-1zM454 428h1v8h-1zM483 428h5v1h-5zM46 429h3v1h-3zM55 429h1v2h-1zM104 429h1v2h-1zM109 429h1v1h-1zM114 429h1v6h-1zM146 429h1v2h-1zM186 429h1v1h-1zM190 429h1v1h-1zM196 429h1v2h-1zM228 429h1v1h-1zM232 429h1v1h-1zM238 429h1v2h-1zM253 429h3v1h-3zM274 429h1v1h-1zM278 429h1v1h-1zM284 429h1v2h-1zM330 429h1v2h-1zM375 429h1v2h-1zM425 429h1v2h-1zM470 429h1v2h-1zM483 429h1v1h-1zM488 429h1v6h-1zM44 430h2v1h-2zM49 430h1v5h-1zM64 430h1v1h-1zM163 430h2v1h-2zM187 430h3v1h-3zM205 430h1v1h-1zM229 430h3v1h-3zM251 430h2v1h-2zM256 430h1v5h-1zM275 430h3v1h-3zM292 430h2v1h-2zM323 430h2v1h-2zM346 430h2v1h-2zM368 430h2v1h-2zM384 430h1v1h-1zM479 430h1v1h-1zM44 431h1v3h-1zM54 431h1v2h-1zM63 431h1v1h-1zM96 431h1v3h-1zM103 431h1v2h-1zM138 431h1v3h-1zM145 431h1v2h-1zM160 431h3v1h-3zM164 431h1v3h-1zM186 431h1v1h-1zM190 431h1v1h-1zM195 431h1v2h-1zM204 431h1v1h-1zM228 431h1v1h-1zM232 431h1v1h-1zM237 431h1v2h-1zM251 431h1v3h-1zM274 431h1v1h-1zM278 431h1v1h-1zM283 431h1v2h-1zM294 431h1v4h-1zM320 431h3v1h-3zM324 431h1v3h-1zM329 431h1v2h-1zM348 431h1v4h-1zM365 431h3v1h-3zM369 431h1v3h-1zM374 431h1v2h-1zM383 431h1v1h-1zM391 431h1v3h-1zM424 431h1v2h-1zM469 431h1v2h-1zM478 431h1v1h-1zM62 432h1v1h-1zM185 432h1v2h-1zM191 432h1v2h-1zM203 432h1v1h-1zM227 432h1v2h-1zM233 432h1v2h-1zM273 432h1v2h-1zM279 432h1v2h-1zM289 432h1v3h-1zM343 432h1v3h-1zM382 432h1v1h-1zM477 432h1v1h-1zM53 433h1v2h-1zM61 433h1v1h-1zM102 433h1v2h-1zM109 433h1v2h-1zM144 433h1v2h-1zM159 433h1v2h-1zM194 433h1v2h-1zM202 433h1v1h-1zM236 433h1v2h-1zM282 433h1v2h-1zM319 433h1v2h-1zM328 433h1v2h-1zM364 433h1v2h-1zM373 433h1v2h-1zM381 433h1v1h-1zM423 433h1v2h-1zM468 433h1v2h-1zM476 433h1v1h-1zM483 433h1v2h-1zM45 434h1v1h-1zM60 434h1v1h-1zM95 434h1v2h-1zM137 434h1v2h-1zM163 434h1v1h-1zM186 434h1v1h-1zM190 434h1v1h-1zM201 434h1v1h-1zM228 434h1v1h-1zM232 434h1v1h-1zM252 434h1v1h-1zM274 434h1v1h-1zM278 434h1v1h-1zM298 434h1v1h-1zM302 434h1v1h-1zM323 434h1v1h-1zM368 434h1v1h-1zM380 434h1v1h-1zM390 434h1v2h-1zM415 434h1v1h-1zM419 434h1v1h-1zM460 434h1v1h-1zM464 434h1v1h-1zM475 434h1v1h-1zM46 435h3v1h-3zM52 435h1v2h-1zM60 435h6v1h-6zM101 435h1v2h-1zM110 435h4v1h-4zM143 435h1v2h-1zM160 435h3v1h-3zM187 435h3v1h-3zM193 435h1v2h-1zM201 435h6v1h-6zM229 435h3v1h-3zM235 435h1v2h-1zM253 435h3v1h-3zM275 435h3v1h-3zM281 435h1v2h-1zM290 435h4v1h-4zM299 435h3v1h-3zM320 435h3v1h-3zM327 435h1v2h-1zM344 435h4v1h-4zM365 435h3v1h-3zM372 435h1v2h-1zM380 435h6v1h-6zM416 435h3v1h-3zM422 435h1v2h-1zM461 435h3v1h-3zM467 435h1v2h-1zM475 435h6v1h-6zM484 435h4v1h-4zM100 478h8v1h-8zM156 478h1v2h-1zM162 478h1v3h-1zM171 478h2v1h-2zM176 478h1v1h-1zM194 478h1v1h-1zM204 478h1v2h-1zM207 478h1v1h-1zM100 479h1v3h-1zM107 479h1v3h-1zM121 479h9v1h-9zM168 479h3v1h-3zM173 479h8v1h-8zM183 479h7v1h-7zM193 479h2v1h-2zM208 479h1v1h-1zM82 480h1v1h-1zM90 480h3v1h-3zM111 480h4v1h-4zM121 480h1v4h-1zM129 480h1v4h-1zM155 480h1v2h-1zM170 480h1v2h-1zM176 480h1v1h-1zM185 480h1v3h-1zM188 480h1v3h-1zM192 480h2v1h-2zM199 480h12v1h-12zM81 481h2v1h-2zM89 481h1v1h-1zM93 481h1v1h-1zM110 481h1v2h-1zM115 481h1v3h-1zM157 481h1v2h-1zM159 481h7v1h-7zM173 481h7v1h-7zM191 481h2v1h-2zM199 481h1v2h-1zM205 481h1v3h-1zM80 482h3v1h-3zM88 482h1v6h-1zM94 482h1v6h-1zM100 482h8v1h-8zM153 482h2v1h-2zM162 482h1v4h-1zM165 482h1v8h-1zM168 482h6v1h-6zM176 482h1v1h-1zM179 482h1v1h-1zM190 482h1v1h-1zM194 482h2v1h-2zM209 482h1v1h-1zM82 483h1v7h-1zM100 483h1v2h-1zM107 483h1v2h-1zM154 483h1v1h-1zM156 483h2v1h-2zM170 483h1v1h-1zM173 483h7v1h-7zM183 483h8v1h-8zM193 483h2v1h-2zM199 483h5v1h-5zM208 483h2v1h-2zM112 484h3v1h-3zM121 484h9v1h-9zM155 484h2v2h-2zM169 484h3v1h-3zM173 484h1v1h-1zM176 484h1v1h-1zM179 484h1v1h-1zM185 484h1v4h-1zM188 484h1v7h-1zM192 484h2v1h-2zM199 484h1v4h-1zM203 484h1v3h-1zM205 484h2v1h-2zM208 484h1v1h-1zM100 485h8v1h-8zM115 485h1v4h-1zM121 485h1v4h-1zM129 485h1v4h-1zM169 485h2v1h-2zM172 485h8v1h-8zM190 485h2v1h-2zM195 485h1v1h-1zM206 485h3v1h-3zM100 486h1v2h-1zM107 486h1v4h-1zM155 486h1v1h-1zM157 486h2v2h-2zM161 486h1v2h-1zM168 486h1v2h-1zM170 486h1v5h-1zM172 486h1v1h-1zM176 486h1v1h-1zM190 486h1v1h-1zM194 486h2v1h-2zM206 486h2v2h-2zM299 486h5v1h-5zM305 486h1v12h-1zM110 487h1v2h-1zM154 487h1v1h-1zM173 487h1v2h-1zM175 487h2v1h-2zM179 487h1v1h-1zM193 487h2v1h-2zM202 487h2v1h-2zM210 487h1v3h-1zM231 487h1v5h-1zM243 487h2v1h-2zM248 487h1v1h-1zM256 487h1v2h-1zM260 487h1v2h-1zM263 487h4v1h-4zM297 487h2v1h-2zM303 487h1v3h-1zM315 487h1v1h-1zM321 487h1v2h-1zM328 487h1v2h-1zM332 487h1v2h-1zM335 487h4v1h-4zM371 487h1v3h-1zM373 487h1v3h-1zM375 487h1v3h-1zM378 487h4v1h-4zM387 487h1v1h-1zM393 487h1v2h-1zM400 487h1v2h-1zM404 487h1v2h-1zM407 487h4v1h-4zM445 487h1v1h-1zM449 487h1v1h-1zM459 487h1v1h-1zM465 487h1v2h-1zM472 487h1v2h-1zM476 487h1v2h-1zM479 487h4v1h-4zM519 487h1v2h-1zM522 487h1v1h-1zM531 487h1v1h-1zM537 487h1v2h-1zM544 487h1v2h-1zM548 487h1v2h-1zM551 487h4v1h-4zM89 488h1v1h-1zM93 488h1v1h-1zM99 488h2v1h-2zM153 488h4v1h-4zM158 488h1v1h-1zM160 488h2v1h-2zM175 488h1v2h-1zM178 488h1v2h-1zM180 488h1v2h-1zM184 488h1v2h-1zM192 488h2v1h-2zM198 488h1v3h-1zM201 488h2v1h-2zM205 488h1v1h-1zM207 488h1v1h-1zM226 488h1v4h-1zM236 488h1v4h-1zM240 488h3v1h-3zM245 488h8v1h-8zM263 488h1v3h-1zM266 488h1v3h-1zM298 488h1v3h-1zM300 488h2v1h-2zM312 488h7v1h-7zM335 488h1v3h-1zM338 488h1v3h-1zM369 488h1v2h-1zM378 488h1v2h-1zM381 488h1v3h-1zM384 488h7v1h-7zM407 488h1v3h-1zM410 488h1v3h-1zM442 488h11v1h-11zM456 488h7v1h-7zM479 488h1v3h-1zM482 488h1v3h-1zM523 488h1v1h-1zM528 488h7v1h-7zM551 488h1v3h-1zM554 488h1v3h-1zM90 489h3v1h-3zM99 489h1v2h-1zM111 489h4v1h-4zM121 489h9v1h-9zM159 489h2v1h-2zM172 489h1v1h-1zM191 489h2v1h-2zM203 489h2v1h-2zM208 489h1v1h-1zM242 489h1v2h-1zM248 489h1v1h-1zM255 489h7v1h-7zM301 489h1v1h-1zM313 489h5v1h-5zM319 489h5v1h-5zM327 489h7v1h-7zM385 489h5v1h-5zM391 489h5v1h-5zM399 489h7v1h-7zM445 489h1v2h-1zM449 489h1v2h-1zM457 489h5v1h-5zM463 489h5v1h-5zM471 489h7v1h-7zM514 489h12v1h-12zM529 489h5v1h-5zM535 489h5v1h-5zM543 489h7v1h-7zM104 490h4v1h-4zM121 490h1v1h-1zM129 490h1v1h-1zM158 490h2v1h-2zM162 490h3v1h-3zM175 490h4v1h-4zM183 490h1v1h-1zM190 490h1v1h-1zM203 490h1v1h-1zM209 490h2v1h-2zM245 490h7v1h-7zM256 490h1v1h-1zM260 490h1v1h-1zM302 490h1v1h-1zM313 490h1v1h-1zM317 490h1v1h-1zM321 490h1v2h-1zM323 490h1v4h-1zM328 490h1v1h-1zM332 490h1v1h-1zM370 490h2v1h-2zM373 490h6v1h-6zM385 490h1v1h-1zM389 490h1v1h-1zM393 490h1v2h-1zM395 490h1v4h-1zM400 490h1v1h-1zM404 490h1v1h-1zM457 490h1v1h-1zM461 490h1v1h-1zM465 490h1v2h-1zM467 490h1v4h-1zM472 490h1v1h-1zM476 490h1v1h-1zM514 490h1v2h-1zM520 490h1v3h-1zM529 490h1v1h-1zM533 490h1v1h-1zM537 490h1v2h-1zM539 490h1v4h-1zM544 490h1v1h-1zM548 490h1v1h-1zM240 491h6v1h-6zM248 491h1v1h-1zM251 491h1v1h-1zM256 491h5v1h-5zM263 491h4v1h-4zM297 491h7v1h-7zM313 491h5v1h-5zM328 491h5v1h-5zM335 491h4v1h-4zM371 491h1v1h-1zM375 491h1v2h-1zM378 491h4v1h-4zM385 491h5v1h-5zM400 491h5v1h-5zM407 491h4v1h-4zM441 491h13v1h-13zM457 491h5v1h-5zM472 491h5v1h-5zM479 491h4v1h-4zM524 491h1v1h-1zM529 491h5v1h-5zM544 491h5v1h-5zM551 491h4v1h-4zM226 492h11v1h-11zM242 492h1v1h-1zM245 492h7v1h-7zM256 492h1v1h-1zM260 492h1v1h-1zM263 492h1v2h-1zM266 492h1v2h-1zM302 492h1v1h-1zM312 492h6v1h-6zM319 492h3v1h-3zM328 492h1v1h-1zM332 492h1v1h-1zM335 492h1v2h-1zM338 492h1v2h-1zM369 492h5v1h-5zM378 492h1v2h-1zM381 492h1v2h-1zM384 492h6v1h-6zM391 492h3v1h-3zM400 492h1v1h-1zM404 492h1v1h-1zM407 492h1v2h-1zM410 492h1v2h-1zM443 492h9v1h-9zM456 492h6v1h-6zM463 492h3v1h-3zM472 492h1v1h-1zM476 492h1v1h-1zM479 492h1v2h-1zM482 492h1v2h-1zM514 492h5v1h-5zM523 492h2v1h-2zM528 492h6v1h-6zM535 492h3v1h-3zM544 492h1v1h-1zM548 492h1v1h-1zM551 492h1v2h-1zM554 492h1v2h-1zM226 493h1v1h-1zM231 493h1v5h-1zM236 493h1v1h-1zM241 493h3v1h-3zM245 493h1v1h-1zM248 493h1v1h-1zM251 493h1v1h-1zM256 493h5v1h-5zM301 493h1v1h-1zM315 493h2v1h-2zM320 493h2v1h-2zM328 493h5v1h-5zM371 493h1v1h-1zM374 493h3v1h-3zM387 493h2v1h-2zM392 493h2v1h-2zM400 493h5v1h-5zM443 493h1v1h-1zM447 493h1v1h-1zM451 493h1v1h-1zM459 493h2v1h-2zM464 493h2v1h-2zM472 493h5v1h-5zM514 493h1v4h-1zM518 493h1v3h-1zM520 493h2v1h-2zM523 493h1v1h-1zM531 493h2v1h-2zM536 493h2v1h-2zM544 493h5v1h-5zM241 494h2v1h-2zM244 494h8v1h-8zM256 494h1v1h-1zM260 494h1v1h-1zM263 494h4v1h-4zM298 494h6v1h-6zM312 494h7v1h-7zM320 494h1v1h-1zM322 494h3v1h-3zM328 494h1v1h-1zM332 494h1v1h-1zM335 494h4v1h-4zM370 494h3v1h-3zM374 494h1v1h-1zM376 494h1v3h-1zM378 494h4v1h-4zM384 494h7v1h-7zM392 494h1v1h-1zM394 494h3v1h-3zM400 494h1v1h-1zM404 494h1v1h-1zM407 494h4v1h-4zM443 494h9v1h-9zM456 494h7v1h-7zM464 494h1v1h-1zM466 494h3v1h-3zM472 494h1v1h-1zM476 494h1v1h-1zM479 494h4v1h-4zM521 494h3v1h-3zM528 494h7v1h-7zM536 494h1v1h-1zM538 494h3v1h-3zM544 494h1v1h-1zM548 494h1v1h-1zM551 494h4v1h-4zM101 495h1v1h-1zM226 495h1v3h-1zM236 495h1v3h-1zM240 495h1v2h-1zM242 495h1v5h-1zM244 495h1v1h-1zM248 495h1v1h-1zM255 495h7v1h-7zM263 495h1v3h-1zM266 495h1v4h-1zM297 495h1v1h-1zM301 495h1v3h-1zM309 495h1v2h-1zM315 495h1v1h-1zM319 495h1v1h-1zM323 495h2v1h-2zM327 495h7v1h-7zM335 495h1v3h-1zM338 495h1v4h-1zM370 495h5v1h-5zM378 495h1v3h-1zM381 495h1v4h-1zM387 495h1v1h-1zM391 495h1v1h-1zM395 495h2v1h-2zM399 495h7v1h-7zM407 495h1v3h-1zM410 495h1v4h-1zM443 495h1v1h-1zM447 495h1v1h-1zM451 495h1v1h-1zM459 495h1v1h-1zM463 495h1v1h-1zM467 495h2v1h-2zM471 495h7v1h-7zM479 495h1v3h-1zM482 495h1v4h-1zM521 495h2v2h-2zM531 495h1v1h-1zM535 495h1v1h-1zM539 495h2v1h-2zM543 495h7v1h-7zM551 495h1v3h-1zM554 495h1v4h-1zM87 496h6v1h-6zM100 496h2v1h-2zM154 496h1v2h-1zM158 496h1v2h-1zM161 496h4v1h-4zM245 496h1v2h-1zM247 496h2v1h-2zM251 496h1v1h-1zM314 496h2v1h-2zM318 496h1v1h-1zM324 496h1v1h-1zM369 496h1v2h-1zM371 496h1v4h-1zM373 496h2v1h-2zM386 496h2v1h-2zM390 496h1v1h-1zM396 496h1v1h-1zM443 496h9v1h-9zM458 496h2v1h-2zM462 496h1v1h-1zM468 496h1v1h-1zM517 496h2v1h-2zM525 496h1v3h-1zM530 496h2v1h-2zM534 496h1v1h-1zM540 496h1v1h-1zM81 497h5v1h-5zM87 497h1v2h-1zM92 497h1v2h-1zM96 497h13v1h-13zM161 497h1v3h-1zM164 497h1v3h-1zM247 497h1v2h-1zM250 497h1v2h-1zM252 497h1v2h-1zM256 497h2v1h-2zM260 497h1v1h-1zM308 497h2v1h-2zM314 497h1v1h-1zM316 497h1v1h-1zM319 497h2v1h-2zM323 497h1v1h-1zM328 497h2v1h-2zM332 497h1v1h-1zM374 497h3v1h-3zM386 497h1v1h-1zM388 497h1v1h-1zM391 497h2v1h-2zM395 497h1v1h-1zM400 497h2v1h-2zM404 497h1v1h-1zM445 497h1v1h-1zM449 497h2v1h-2zM458 497h1v1h-1zM460 497h1v1h-1zM463 497h2v1h-2zM467 497h1v1h-1zM472 497h2v1h-2zM476 497h1v1h-1zM513 497h1v3h-1zM516 497h2v1h-2zM520 497h1v1h-1zM522 497h1v1h-1zM530 497h1v1h-1zM532 497h1v1h-1zM535 497h2v1h-2zM539 497h1v1h-1zM544 497h2v1h-2zM548 497h1v1h-1zM83 498h1v3h-1zM99 498h2v1h-2zM153 498h7v1h-7zM226 498h11v1h-11zM244 498h1v1h-1zM256 498h1v1h-1zM260 498h3v1h-3zM299 498h3v1h-3zM305 498h4v1h-4zM313 498h2v1h-2zM316 498h2v1h-2zM320 498h1v2h-1zM323 498h2v1h-2zM328 498h1v1h-1zM332 498h3v1h-3zM374 498h1v1h-1zM377 498h2v1h-2zM385 498h2v1h-2zM388 498h2v1h-2zM392 498h1v2h-1zM395 498h2v1h-2zM400 498h1v1h-1zM404 498h3v1h-3zM442 498h3v1h-3zM451 498h2v1h-2zM457 498h2v1h-2zM460 498h2v1h-2zM464 498h1v2h-1zM467 498h2v1h-2zM472 498h1v1h-1zM476 498h3v1h-3zM518 498h2v1h-2zM523 498h1v1h-1zM529 498h2v1h-2zM532 498h2v1h-2zM536 498h1v2h-1zM539 498h2v1h-2zM544 498h1v1h-1zM548 498h3v1h-3zM87 499h6v1h-6zM99 499h1v1h-1zM104 499h1v2h-1zM154 499h1v1h-1zM158 499h1v1h-1zM226 499h1v1h-1zM236 499h1v1h-1zM247 499h4v1h-4zM255 499h1v1h-1zM261 499h2v1h-2zM264 499h3v1h-3zM312 499h2v1h-2zM317 499h1v1h-1zM324 499h1v1h-1zM327 499h1v1h-1zM333 499h2v1h-2zM336 499h3v1h-3zM377 499h1v1h-1zM379 499h3v1h-3zM384 499h2v1h-2zM389 499h1v1h-1zM396 499h1v1h-1zM399 499h1v1h-1zM405 499h2v1h-2zM408 499h3v1h-3zM442 499h1v1h-1zM456 499h2v1h-2zM461 499h1v1h-1zM468 499h1v1h-1zM471 499h1v1h-1zM477 499h2v1h-2zM480 499h3v1h-3zM518 499h1v1h-1zM524 499h2v1h-2zM528 499h2v1h-2zM533 499h1v1h-1zM540 499h1v1h-1zM543 499h1v1h-1zM549 499h2v1h-2zM552 499h3v1h-3zM87 500h1v1h-1zM92 500h1v1h-1zM98 500h1v1h-1zM154 500h5v1h-5zM161 500h4v1h-4zM81 501h5v1h-5zM87 501h6v1h-6zM97 501h2v1h-2zM101 501h7v1h-7zM154 501h1v1h-1zM158 501h1v1h-1zM161 501h1v2h-1zM164 501h1v2h-1zM83 502h1v3h-1zM87 502h1v1h-1zM92 502h1v1h-1zM96 502h1v1h-1zM98 502h1v6h-1zM104 502h1v4h-1zM154 502h5v1h-5zM87 503h6v1h-6zM154 503h1v1h-1zM158 503h1v1h-1zM161 503h4v1h-4zM88 504h1v3h-1zM90 504h1v4h-1zM153 504h7v1h-7zM161 504h1v3h-1zM164 504h1v4h-1zM83 505h3v1h-3zM81 506h2v1h-2zM93 506h1v2h-1zM100 506h9v1h-9zM154 506h2v1h-2zM158 506h1v1h-1zM86 507h2v1h-2zM154 507h1v1h-1zM158 507h3v1h-3zM86 508h1v1h-1zM90 508h4v1h-4zM153 508h1v1h-1zM159 508h2v1h-2zM162 508h3v1h-3zM10 516h11v1h-11zM27 516h1v2h-1zM185 516h8v1h-8zM257 516h8v1h-8zM321 516h8v1h-8zM393 516h8v1h-8zM465 516h8v1h-8zM545 516h8v1h-8zM15 517h1v5h-1zM185 517h1v3h-1zM192 517h1v3h-1zM206 517h9v1h-9zM257 517h1v3h-1zM264 517h1v3h-1zM278 517h9v1h-9zM321 517h1v3h-1zM328 517h1v3h-1zM350 517h9v1h-9zM393 517h1v3h-1zM400 517h1v3h-1zM422 517h9v1h-9zM465 517h1v3h-1zM472 517h1v3h-1zM494 517h9v1h-9zM545 517h1v3h-1zM552 517h1v3h-1zM566 517h9v1h-9zM11 518h1v1h-1zM19 518h1v1h-1zM26 518h10v1h-10zM108 518h4v1h-4zM116 518h4v1h-4zM125 518h3v1h-3zM136 518h3v1h-3zM173 518h6v1h-6zM197 518h3v1h-3zM206 518h1v4h-1zM214 518h1v4h-1zM246 518h4v1h-4zM268 518h6v1h-6zM278 518h1v4h-1zM286 518h1v4h-1zM310 518h4v1h-4zM334 518h3v1h-3zM342 518h3v1h-3zM350 518h1v4h-1zM358 518h1v4h-1zM382 518h4v1h-4zM405 518h4v1h-4zM414 518h3v1h-3zM422 518h1v4h-1zM430 518h1v4h-1zM454 518h3v1h-3zM478 518h1v1h-1zM485 518h4v1h-4zM494 518h1v4h-1zM502 518h1v4h-1zM527 518h1v1h-1zM535 518h3v1h-3zM558 518h3v1h-3zM566 518h1v4h-1zM574 518h1v4h-1zM12 519h1v2h-1zM18 519h1v2h-1zM26 519h1v1h-1zM31 519h1v2h-1zM107 519h1v3h-1zM112 519h1v3h-1zM115 519h1v2h-1zM120 519h1v3h-1zM124 519h1v1h-1zM128 519h1v1h-1zM135 519h1v1h-1zM139 519h1v1h-1zM178 519h1v1h-1zM196 519h1v4h-1zM200 519h1v1h-1zM245 519h1v3h-1zM250 519h1v3h-1zM273 519h1v1h-1zM309 519h1v3h-1zM314 519h1v3h-1zM333 519h1v1h-1zM337 519h1v3h-1zM341 519h1v1h-1zM345 519h1v1h-1zM381 519h1v3h-1zM386 519h1v3h-1zM404 519h1v2h-1zM409 519h1v3h-1zM413 519h1v1h-1zM417 519h1v1h-1zM453 519h1v4h-1zM457 519h1v1h-1zM477 519h2v1h-2zM484 519h1v2h-1zM489 519h1v3h-1zM526 519h2v1h-2zM534 519h1v1h-1zM538 519h1v1h-1zM557 519h1v1h-1zM561 519h1v1h-1zM25 520h1v1h-1zM123 520h1v6h-1zM129 520h1v6h-1zM134 520h1v2h-1zM177 520h1v3h-1zM185 520h8v1h-8zM201 520h1v2h-1zM257 520h8v1h-8zM272 520h1v3h-1zM321 520h8v1h-8zM332 520h1v2h-1zM340 520h1v6h-1zM346 520h1v6h-1zM393 520h8v1h-8zM412 520h1v6h-1zM418 520h1v6h-1zM458 520h1v2h-1zM465 520h8v1h-8zM476 520h3v1h-3zM525 520h3v1h-3zM533 520h1v6h-1zM539 520h1v6h-1zM545 520h8v1h-8zM556 520h1v2h-1zM27 521h8v1h-8zM136 521h3v1h-3zM185 521h1v2h-1zM192 521h1v2h-1zM257 521h1v2h-1zM264 521h1v2h-1zM321 521h1v2h-1zM328 521h1v2h-1zM393 521h1v2h-1zM400 521h1v2h-1zM465 521h1v2h-1zM472 521h1v2h-1zM478 521h1v7h-1zM527 521h1v7h-1zM545 521h1v2h-1zM552 521h1v2h-1zM558 521h3v1h-3zM9 522h13v1h-13zM27 522h1v3h-1zM31 522h1v3h-1zM108 522h4v1h-4zM117 522h3v1h-3zM134 522h2v1h-2zM139 522h1v5h-1zM200 522h2v1h-2zM206 522h9v1h-9zM246 522h4v1h-4zM278 522h9v1h-9zM310 522h4v1h-4zM336 522h1v1h-1zM350 522h9v1h-9zM382 522h4v1h-4zM406 522h3v1h-3zM422 522h9v1h-9zM457 522h2v1h-2zM486 522h3v1h-3zM494 522h9v1h-9zM556 522h2v1h-2zM561 522h1v5h-1zM566 522h9v1h-9zM15 523h1v6h-1zM107 523h1v4h-1zM112 523h1v4h-1zM120 523h1v4h-1zM134 523h1v3h-1zM176 523h1v3h-1zM185 523h8v1h-8zM197 523h3v1h-3zM201 523h1v3h-1zM206 523h1v4h-1zM214 523h1v4h-1zM245 523h1v4h-1zM250 523h1v4h-1zM257 523h8v1h-8zM271 523h1v3h-1zM278 523h1v4h-1zM286 523h1v4h-1zM309 523h1v4h-1zM314 523h1v4h-1zM321 523h8v1h-8zM335 523h1v1h-1zM350 523h1v4h-1zM358 523h1v4h-1zM381 523h1v4h-1zM386 523h1v4h-1zM393 523h8v1h-8zM409 523h1v4h-1zM422 523h1v4h-1zM430 523h1v4h-1zM454 523h3v1h-3zM458 523h1v3h-1zM465 523h8v1h-8zM489 523h1v4h-1zM494 523h1v4h-1zM502 523h1v4h-1zM545 523h8v1h-8zM556 523h1v3h-1zM566 523h1v4h-1zM574 523h1v4h-1zM185 524h1v2h-1zM192 524h1v4h-1zM257 524h1v2h-1zM264 524h1v4h-1zM321 524h1v2h-1zM328 524h1v4h-1zM334 524h1v1h-1zM393 524h1v2h-1zM400 524h1v4h-1zM465 524h1v2h-1zM472 524h1v4h-1zM545 524h1v2h-1zM552 524h1v4h-1zM24 525h13v1h-13zM115 525h1v2h-1zM196 525h1v2h-1zM333 525h1v1h-1zM404 525h1v2h-1zM453 525h1v2h-1zM484 525h1v2h-1zM31 526h1v3h-1zM124 526h1v1h-1zM128 526h1v1h-1zM135 526h1v1h-1zM175 526h1v2h-1zM184 526h2v1h-2zM200 526h1v1h-1zM256 526h2v1h-2zM270 526h1v2h-1zM320 526h2v1h-2zM332 526h1v1h-1zM341 526h1v1h-1zM345 526h1v1h-1zM392 526h2v1h-2zM413 526h1v1h-1zM417 526h1v1h-1zM457 526h1v1h-1zM464 526h2v1h-2zM534 526h1v1h-1zM538 526h1v1h-1zM544 526h2v1h-2zM557 526h1v1h-1zM108 527h4v1h-4zM116 527h4v1h-4zM125 527h3v1h-3zM131 527h1v1h-1zM136 527h3v1h-3zM184 527h1v2h-1zM197 527h3v1h-3zM206 527h9v1h-9zM246 527h4v1h-4zM256 527h1v2h-1zM278 527h9v1h-9zM310 527h4v1h-4zM320 527h1v2h-1zM332 527h6v1h-6zM342 527h3v1h-3zM350 527h9v1h-9zM382 527h4v1h-4zM392 527h1v2h-1zM405 527h4v1h-4zM414 527h3v1h-3zM422 527h9v1h-9zM454 527h3v1h-3zM464 527h1v2h-1zM485 527h4v1h-4zM494 527h9v1h-9zM535 527h3v1h-3zM544 527h1v2h-1zM558 527h3v1h-3zM566 527h9v1h-9zM189 528h4v1h-4zM206 528h1v1h-1zM214 528h1v1h-1zM261 528h4v1h-4zM278 528h1v1h-1zM286 528h1v1h-1zM325 528h4v1h-4zM350 528h1v1h-1zM358 528h1v1h-1zM397 528h4v1h-4zM422 528h1v1h-1zM430 528h1v1h-1zM469 528h4v1h-4zM494 528h1v1h-1zM502 528h1v1h-1zM549 528h4v1h-4zM566 528h1v1h-1zM574 528h1v1h-1zM43 534h1v2h-1zM185 534h8v1h-8zM257 534h8v1h-8zM321 534h8v1h-8zM393 534h8v1h-8zM473 534h8v1h-8zM537 534h8v1h-8zM185 535h1v3h-1zM192 535h1v3h-1zM206 535h9v1h-9zM257 535h1v3h-1zM264 535h1v3h-1zM278 535h9v1h-9zM321 535h1v3h-1zM328 535h1v3h-1zM350 535h9v1h-9zM393 535h1v3h-1zM400 535h1v3h-1zM422 535h9v1h-9zM473 535h1v3h-1zM480 535h1v3h-1zM494 535h9v1h-9zM537 535h1v3h-1zM544 535h1v3h-1zM566 535h9v1h-9zM10 536h3v1h-3zM18 536h3v1h-3zM26 536h3v1h-3zM34 536h3v1h-3zM42 536h10v1h-10zM108 536h3v1h-3zM117 536h3v1h-3zM125 536h3v1h-3zM134 536h6v1h-6zM173 536h6v1h-6zM197 536h3v1h-3zM206 536h1v4h-1zM214 536h1v4h-1zM246 536h4v1h-4zM268 536h6v1h-6zM278 536h1v4h-1zM286 536h1v4h-1zM310 536h4v1h-4zM334 536h1v1h-1zM341 536h4v1h-4zM350 536h1v4h-1zM358 536h1v4h-1zM382 536h4v1h-4zM406 536h3v1h-3zM414 536h3v1h-3zM422 536h1v4h-1zM430 536h1v4h-1zM462 536h3v1h-3zM484 536h6v1h-6zM494 536h1v4h-1zM502 536h1v4h-1zM526 536h3v1h-3zM550 536h3v1h-3zM558 536h3v1h-3zM566 536h1v4h-1zM574 536h1v4h-1zM9 537h1v1h-1zM13 537h1v3h-1zM17 537h1v1h-1zM21 537h1v1h-1zM25 537h1v1h-1zM29 537h1v1h-1zM33 537h1v1h-1zM37 537h1v1h-1zM42 537h1v1h-1zM47 537h1v2h-1zM107 537h1v4h-1zM111 537h1v1h-1zM116 537h1v1h-1zM120 537h1v1h-1zM124 537h1v1h-1zM128 537h1v1h-1zM134 537h1v2h-1zM178 537h1v1h-1zM196 537h1v4h-1zM200 537h1v1h-1zM245 537h1v3h-1zM250 537h1v3h-1zM273 537h1v1h-1zM309 537h1v3h-1zM314 537h1v3h-1zM333 537h2v1h-2zM340 537h1v3h-1zM345 537h1v3h-1zM381 537h1v3h-1zM386 537h1v3h-1zM405 537h1v1h-1zM409 537h1v3h-1zM413 537h1v1h-1zM417 537h1v1h-1zM461 537h1v4h-1zM465 537h1v1h-1zM489 537h1v1h-1zM525 537h1v4h-1zM529 537h1v1h-1zM549 537h1v1h-1zM553 537h1v3h-1zM557 537h1v1h-1zM561 537h1v1h-1zM8 538h1v2h-1zM16 538h1v6h-1zM22 538h1v6h-1zM24 538h1v6h-1zM30 538h1v6h-1zM32 538h1v2h-1zM41 538h1v1h-1zM112 538h1v2h-1zM115 538h1v2h-1zM123 538h1v6h-1zM129 538h1v6h-1zM177 538h1v3h-1zM185 538h8v1h-8zM201 538h1v2h-1zM257 538h8v1h-8zM272 538h1v3h-1zM321 538h8v1h-8zM332 538h3v1h-3zM393 538h8v1h-8zM404 538h1v2h-1zM412 538h1v2h-1zM466 538h1v2h-1zM473 538h8v1h-8zM488 538h1v3h-1zM530 538h1v2h-1zM537 538h8v1h-8zM548 538h1v2h-1zM556 538h1v2h-1zM34 539h3v1h-3zM43 539h8v1h-8zM117 539h3v1h-3zM134 539h4v1h-4zM185 539h1v2h-1zM192 539h1v2h-1zM257 539h1v2h-1zM264 539h1v2h-1zM321 539h1v2h-1zM328 539h1v2h-1zM334 539h1v7h-1zM393 539h1v2h-1zM400 539h1v2h-1zM414 539h3v1h-3zM473 539h1v2h-1zM480 539h1v2h-1zM537 539h1v2h-1zM544 539h1v2h-1zM558 539h3v1h-3zM12 540h1v1h-1zM32 540h2v1h-2zM37 540h1v5h-1zM43 540h1v3h-1zM47 540h1v3h-1zM111 540h2v1h-2zM115 540h2v1h-2zM120 540h1v5h-1zM134 540h1v1h-1zM138 540h1v1h-1zM200 540h2v1h-2zM206 540h9v1h-9zM246 540h4v1h-4zM278 540h9v1h-9zM310 540h4v1h-4zM341 540h4v1h-4zM350 540h9v1h-9zM382 540h4v1h-4zM408 540h1v1h-1zM412 540h2v1h-2zM417 540h1v5h-1zM422 540h9v1h-9zM465 540h2v1h-2zM494 540h9v1h-9zM529 540h2v1h-2zM552 540h1v1h-1zM556 540h2v1h-2zM561 540h1v5h-1zM566 540h9v1h-9zM11 541h1v1h-1zM32 541h1v3h-1zM108 541h3v1h-3zM112 541h1v3h-1zM115 541h1v3h-1zM139 541h1v3h-1zM176 541h1v3h-1zM185 541h8v1h-8zM197 541h3v1h-3zM201 541h1v3h-1zM206 541h1v4h-1zM214 541h1v4h-1zM245 541h1v4h-1zM250 541h1v4h-1zM257 541h8v1h-8zM271 541h1v3h-1zM278 541h1v4h-1zM286 541h1v4h-1zM309 541h1v4h-1zM314 541h1v4h-1zM321 541h8v1h-8zM340 541h1v4h-1zM345 541h1v4h-1zM350 541h1v4h-1zM358 541h1v4h-1zM381 541h1v4h-1zM386 541h1v4h-1zM393 541h8v1h-8zM407 541h1v1h-1zM412 541h1v3h-1zM422 541h1v4h-1zM430 541h1v4h-1zM462 541h3v1h-3zM466 541h1v3h-1zM473 541h8v1h-8zM487 541h1v3h-1zM494 541h1v4h-1zM502 541h1v4h-1zM526 541h3v1h-3zM530 541h1v3h-1zM537 541h8v1h-8zM551 541h1v1h-1zM556 541h1v3h-1zM566 541h1v4h-1zM574 541h1v4h-1zM10 542h1v1h-1zM185 542h1v2h-1zM192 542h1v4h-1zM257 542h1v2h-1zM264 542h1v4h-1zM321 542h1v2h-1zM328 542h1v4h-1zM393 542h1v2h-1zM400 542h1v4h-1zM406 542h1v1h-1zM473 542h1v2h-1zM480 542h1v4h-1zM537 542h1v2h-1zM544 542h1v4h-1zM550 542h1v1h-1zM9 543h1v1h-1zM40 543h13v1h-13zM107 543h1v2h-1zM134 543h1v2h-1zM196 543h1v2h-1zM405 543h1v1h-1zM461 543h1v2h-1zM525 543h1v2h-1zM549 543h1v1h-1zM8 544h1v1h-1zM17 544h1v1h-1zM21 544h1v1h-1zM25 544h1v1h-1zM29 544h1v1h-1zM33 544h1v1h-1zM47 544h1v3h-1zM111 544h1v1h-1zM116 544h1v1h-1zM124 544h1v1h-1zM128 544h1v1h-1zM138 544h1v1h-1zM175 544h1v2h-1zM184 544h2v1h-2zM200 544h1v1h-1zM256 544h2v1h-2zM270 544h1v2h-1zM320 544h2v1h-2zM392 544h2v1h-2zM404 544h1v1h-1zM413 544h1v1h-1zM465 544h1v1h-1zM472 544h2v1h-2zM486 544h1v2h-1zM529 544h1v1h-1zM536 544h2v1h-2zM548 544h1v1h-1zM557 544h1v1h-1zM8 545h6v1h-6zM18 545h3v1h-3zM26 545h3v1h-3zM34 545h3v1h-3zM108 545h3v1h-3zM117 545h3v1h-3zM125 545h3v1h-3zM131 545h1v1h-1zM135 545h3v1h-3zM184 545h1v2h-1zM197 545h3v1h-3zM206 545h9v1h-9zM246 545h4v1h-4zM256 545h1v2h-1zM278 545h9v1h-9zM310 545h4v1h-4zM320 545h1v2h-1zM341 545h4v1h-4zM350 545h9v1h-9zM382 545h4v1h-4zM392 545h1v2h-1zM404 545h6v1h-6zM414 545h3v1h-3zM422 545h9v1h-9zM462 545h3v1h-3zM472 545h1v2h-1zM494 545h9v1h-9zM526 545h3v1h-3zM536 545h1v2h-1zM548 545h6v1h-6zM558 545h3v1h-3zM566 545h9v1h-9zM189 546h4v1h-4zM206 546h1v1h-1zM214 546h1v1h-1zM261 546h4v1h-4zM278 546h1v1h-1zM286 546h1v1h-1zM325 546h4v1h-4zM350 546h1v1h-1zM358 546h1v1h-1zM397 546h4v1h-4zM422 546h1v1h-1zM430 546h1v1h-1zM477 546h4v1h-4zM494 546h1v1h-1zM502 546h1v1h-1zM541 546h4v1h-4zM566 546h1v1h-1zM574 546h1v1h-1z"/></svg>
<div aria-label="text"><span class="t" style="left:267px;top:22px;font-size:16px">玄米の発育モデル</span><span class="t" style="left:253px;top:41px;font-size:16px">軽米:県北農業研究所</span><span class="t" style="left:280px;top:60px;font-size:16px">品種:かけはし</span><span class="t" style="left:13px;top:61px;font-size:16px">有効積算気温</span><span class="t" style="left:542px;top:217px;font-size:16px">平年値</span><span class="t" style="left:542px;top:238px;font-size:16px">本年値</span><span class="t" style="left:542px;top:259px;font-size:16px">平年生育段階</span><span class="t" style="left:542px;top:280px;font-size:16px">本年生育段階</span><span class="t" style="left:22px;top:88px;font-size:16px">900</span><span class="t" style="left:22px;top:123px;font-size:16px">800</span><span class="t" style="left:22px;top:158px;font-size:16px">700</span><span class="t" style="left:22px;top:193px;font-size:16px">600</span><span class="t" style="left:22px;top:228px;font-size:16px">500</span><span class="t" style="left:22px;top:262px;font-size:16px">400</span><span class="t" style="left:22px;top:297px;font-size:16px">300</span><span class="t" style="left:22px;top:331px;font-size:16px">200</span><span class="t" style="left:22px;top:366px;font-size:16px">100</span><span class="t" style="left:38px;top:401px;font-size:16px">0</span><span class="t" style="left:44px;top:422px;font-size:16px">6/21</span><span class="t" style="left:93px;top:422px;font-size:16px">7/5</span><span class="t" style="left:135px;top:422px;font-size:16px">7/19</span><span class="t" style="left:185px;top:422px;font-size:16px">8/2</span><span class="t" style="left:227px;top:422px;font-size:16px">8/16</span><span class="t" style="left:273px;top:422px;font-size:16px">8/30</span><span class="t" style="left:319px;top:422px;font-size:16px">9/13</span><span class="t" style="left:364px;top:422px;font-size:16px">9/27</span><span class="t" style="left:406px;top:422px;font-size:16px">10/11</span><span class="t" style="left:451px;top:422px;font-size:16px">10/25</span><span class="t" style="left:80px;top:476px;font-size:15px">10月3日</span><span class="t" style="left:80px;top:494px;font-size:15px">現在</span><span class="t" style="left:152px;top:476px;font-size:15px">幼穂形成</span><span class="t" style="left:152px;top:494px;font-size:15px">期</span><span class="t" style="left:224px;top:485px;font-size:15px">出穂期</span><span class="t" style="left:296px;top:485px;font-size:15px">乳熟期</span><span class="t" style="left:368px;top:485px;font-size:15px">糊熟期</span><span class="t" style="left:440px;top:485px;font-size:15px">黄熟期</span><span class="t" style="left:512px;top:485px;font-size:15px">成熟期</span><span class="t" style="left:8px;top:514px;font-size:15px">平年</span><span class="t" style="left:8px;top:532px;font-size:15px">2006年</span><span class="t" style="left:107px;top:514px;font-size:15px">830.6</span><span class="t" style="left:107px;top:532px;font-size:15px">960.5</span><span class="t" style="left:173px;top:514px;font-size:15px">7月9日</span><span class="t" style="left:245px;top:514px;font-size:15px">8月7日</span><span class="t" style="left:309px;top:514px;font-size:15px">8月20日</span><span class="t" style="left:381px;top:514px;font-size:15px">8月30日</span><span class="t" style="left:453px;top:514px;font-size:15px">9月13日</span><span class="t" style="left:525px;top:514px;font-size:15px">10月6日</span><span class="t" style="left:173px;top:532px;font-size:15px">7月9日</span><span class="t" style="left:245px;top:532px;font-size:15px">8月7日</span><span class="t" style="left:309px;top:532px;font-size:15px">8月18日</span><span class="t" style="left:381px;top:532px;font-size:15px">8月26日</span><span class="t" style="left:461px;top:532px;font-size:15px">9月7日</span><span class="t" style="left:525px;top:532px;font-size:15px">9月26日</span></div>
</body></html>
